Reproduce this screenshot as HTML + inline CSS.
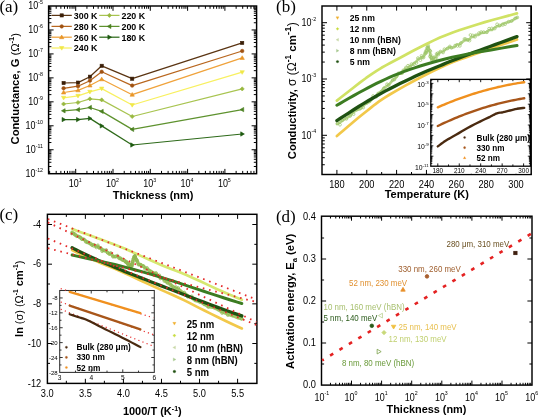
<!DOCTYPE html>
<html><head><meta charset="utf-8"><style>
html,body{margin:0;padding:0;background:#fff;}
svg{display:block;filter:blur(0.3px);}
</style></head><body>
<svg width="539" height="418" viewBox="0 0 539 418" style="font-family:'Liberation Sans', sans-serif">
<rect width="539" height="418" fill="#fff"/>
<line x1="49.63" y1="173.70" x2="49.63" y2="170.90" stroke="#000" stroke-width="1.0" />
<line x1="49.63" y1="6.00" x2="49.63" y2="8.80" stroke="#000" stroke-width="1.0" />
<line x1="56.20" y1="173.70" x2="56.20" y2="170.90" stroke="#000" stroke-width="1.0" />
<line x1="56.20" y1="6.00" x2="56.20" y2="8.80" stroke="#000" stroke-width="1.0" />
<line x1="60.86" y1="173.70" x2="60.86" y2="170.90" stroke="#000" stroke-width="1.0" />
<line x1="60.86" y1="6.00" x2="60.86" y2="8.80" stroke="#000" stroke-width="1.0" />
<line x1="64.47" y1="173.70" x2="64.47" y2="170.90" stroke="#000" stroke-width="1.0" />
<line x1="64.47" y1="6.00" x2="64.47" y2="8.80" stroke="#000" stroke-width="1.0" />
<line x1="67.43" y1="173.70" x2="67.43" y2="170.90" stroke="#000" stroke-width="1.0" />
<line x1="67.43" y1="6.00" x2="67.43" y2="8.80" stroke="#000" stroke-width="1.0" />
<line x1="69.92" y1="173.70" x2="69.92" y2="170.90" stroke="#000" stroke-width="1.0" />
<line x1="69.92" y1="6.00" x2="69.92" y2="8.80" stroke="#000" stroke-width="1.0" />
<line x1="72.09" y1="173.70" x2="72.09" y2="170.90" stroke="#000" stroke-width="1.0" />
<line x1="72.09" y1="6.00" x2="72.09" y2="8.80" stroke="#000" stroke-width="1.0" />
<line x1="73.99" y1="173.70" x2="73.99" y2="170.90" stroke="#000" stroke-width="1.0" />
<line x1="73.99" y1="6.00" x2="73.99" y2="8.80" stroke="#000" stroke-width="1.0" />
<line x1="75.70" y1="173.70" x2="75.70" y2="168.90" stroke="#000" stroke-width="1.0" />
<line x1="75.70" y1="6.00" x2="75.70" y2="10.80" stroke="#000" stroke-width="1.0" />
<line x1="86.93" y1="173.70" x2="86.93" y2="170.90" stroke="#000" stroke-width="1.0" />
<line x1="86.93" y1="6.00" x2="86.93" y2="8.80" stroke="#000" stroke-width="1.0" />
<line x1="93.50" y1="173.70" x2="93.50" y2="170.90" stroke="#000" stroke-width="1.0" />
<line x1="93.50" y1="6.00" x2="93.50" y2="8.80" stroke="#000" stroke-width="1.0" />
<line x1="98.16" y1="173.70" x2="98.16" y2="170.90" stroke="#000" stroke-width="1.0" />
<line x1="98.16" y1="6.00" x2="98.16" y2="8.80" stroke="#000" stroke-width="1.0" />
<line x1="101.77" y1="173.70" x2="101.77" y2="170.90" stroke="#000" stroke-width="1.0" />
<line x1="101.77" y1="6.00" x2="101.77" y2="8.80" stroke="#000" stroke-width="1.0" />
<line x1="104.73" y1="173.70" x2="104.73" y2="170.90" stroke="#000" stroke-width="1.0" />
<line x1="104.73" y1="6.00" x2="104.73" y2="8.80" stroke="#000" stroke-width="1.0" />
<line x1="107.22" y1="173.70" x2="107.22" y2="170.90" stroke="#000" stroke-width="1.0" />
<line x1="107.22" y1="6.00" x2="107.22" y2="8.80" stroke="#000" stroke-width="1.0" />
<line x1="109.39" y1="173.70" x2="109.39" y2="170.90" stroke="#000" stroke-width="1.0" />
<line x1="109.39" y1="6.00" x2="109.39" y2="8.80" stroke="#000" stroke-width="1.0" />
<line x1="111.29" y1="173.70" x2="111.29" y2="170.90" stroke="#000" stroke-width="1.0" />
<line x1="111.29" y1="6.00" x2="111.29" y2="8.80" stroke="#000" stroke-width="1.0" />
<line x1="113.00" y1="173.70" x2="113.00" y2="168.90" stroke="#000" stroke-width="1.0" />
<line x1="113.00" y1="6.00" x2="113.00" y2="10.80" stroke="#000" stroke-width="1.0" />
<line x1="124.23" y1="173.70" x2="124.23" y2="170.90" stroke="#000" stroke-width="1.0" />
<line x1="124.23" y1="6.00" x2="124.23" y2="8.80" stroke="#000" stroke-width="1.0" />
<line x1="130.80" y1="173.70" x2="130.80" y2="170.90" stroke="#000" stroke-width="1.0" />
<line x1="130.80" y1="6.00" x2="130.80" y2="8.80" stroke="#000" stroke-width="1.0" />
<line x1="135.46" y1="173.70" x2="135.46" y2="170.90" stroke="#000" stroke-width="1.0" />
<line x1="135.46" y1="6.00" x2="135.46" y2="8.80" stroke="#000" stroke-width="1.0" />
<line x1="139.07" y1="173.70" x2="139.07" y2="170.90" stroke="#000" stroke-width="1.0" />
<line x1="139.07" y1="6.00" x2="139.07" y2="8.80" stroke="#000" stroke-width="1.0" />
<line x1="142.03" y1="173.70" x2="142.03" y2="170.90" stroke="#000" stroke-width="1.0" />
<line x1="142.03" y1="6.00" x2="142.03" y2="8.80" stroke="#000" stroke-width="1.0" />
<line x1="144.52" y1="173.70" x2="144.52" y2="170.90" stroke="#000" stroke-width="1.0" />
<line x1="144.52" y1="6.00" x2="144.52" y2="8.80" stroke="#000" stroke-width="1.0" />
<line x1="146.69" y1="173.70" x2="146.69" y2="170.90" stroke="#000" stroke-width="1.0" />
<line x1="146.69" y1="6.00" x2="146.69" y2="8.80" stroke="#000" stroke-width="1.0" />
<line x1="148.59" y1="173.70" x2="148.59" y2="170.90" stroke="#000" stroke-width="1.0" />
<line x1="148.59" y1="6.00" x2="148.59" y2="8.80" stroke="#000" stroke-width="1.0" />
<line x1="150.30" y1="173.70" x2="150.30" y2="168.90" stroke="#000" stroke-width="1.0" />
<line x1="150.30" y1="6.00" x2="150.30" y2="10.80" stroke="#000" stroke-width="1.0" />
<line x1="161.53" y1="173.70" x2="161.53" y2="170.90" stroke="#000" stroke-width="1.0" />
<line x1="161.53" y1="6.00" x2="161.53" y2="8.80" stroke="#000" stroke-width="1.0" />
<line x1="168.10" y1="173.70" x2="168.10" y2="170.90" stroke="#000" stroke-width="1.0" />
<line x1="168.10" y1="6.00" x2="168.10" y2="8.80" stroke="#000" stroke-width="1.0" />
<line x1="172.76" y1="173.70" x2="172.76" y2="170.90" stroke="#000" stroke-width="1.0" />
<line x1="172.76" y1="6.00" x2="172.76" y2="8.80" stroke="#000" stroke-width="1.0" />
<line x1="176.37" y1="173.70" x2="176.37" y2="170.90" stroke="#000" stroke-width="1.0" />
<line x1="176.37" y1="6.00" x2="176.37" y2="8.80" stroke="#000" stroke-width="1.0" />
<line x1="179.33" y1="173.70" x2="179.33" y2="170.90" stroke="#000" stroke-width="1.0" />
<line x1="179.33" y1="6.00" x2="179.33" y2="8.80" stroke="#000" stroke-width="1.0" />
<line x1="181.82" y1="173.70" x2="181.82" y2="170.90" stroke="#000" stroke-width="1.0" />
<line x1="181.82" y1="6.00" x2="181.82" y2="8.80" stroke="#000" stroke-width="1.0" />
<line x1="183.99" y1="173.70" x2="183.99" y2="170.90" stroke="#000" stroke-width="1.0" />
<line x1="183.99" y1="6.00" x2="183.99" y2="8.80" stroke="#000" stroke-width="1.0" />
<line x1="185.89" y1="173.70" x2="185.89" y2="170.90" stroke="#000" stroke-width="1.0" />
<line x1="185.89" y1="6.00" x2="185.89" y2="8.80" stroke="#000" stroke-width="1.0" />
<line x1="187.60" y1="173.70" x2="187.60" y2="168.90" stroke="#000" stroke-width="1.0" />
<line x1="187.60" y1="6.00" x2="187.60" y2="10.80" stroke="#000" stroke-width="1.0" />
<line x1="198.83" y1="173.70" x2="198.83" y2="170.90" stroke="#000" stroke-width="1.0" />
<line x1="198.83" y1="6.00" x2="198.83" y2="8.80" stroke="#000" stroke-width="1.0" />
<line x1="205.40" y1="173.70" x2="205.40" y2="170.90" stroke="#000" stroke-width="1.0" />
<line x1="205.40" y1="6.00" x2="205.40" y2="8.80" stroke="#000" stroke-width="1.0" />
<line x1="210.06" y1="173.70" x2="210.06" y2="170.90" stroke="#000" stroke-width="1.0" />
<line x1="210.06" y1="6.00" x2="210.06" y2="8.80" stroke="#000" stroke-width="1.0" />
<line x1="213.67" y1="173.70" x2="213.67" y2="170.90" stroke="#000" stroke-width="1.0" />
<line x1="213.67" y1="6.00" x2="213.67" y2="8.80" stroke="#000" stroke-width="1.0" />
<line x1="216.63" y1="173.70" x2="216.63" y2="170.90" stroke="#000" stroke-width="1.0" />
<line x1="216.63" y1="6.00" x2="216.63" y2="8.80" stroke="#000" stroke-width="1.0" />
<line x1="219.12" y1="173.70" x2="219.12" y2="170.90" stroke="#000" stroke-width="1.0" />
<line x1="219.12" y1="6.00" x2="219.12" y2="8.80" stroke="#000" stroke-width="1.0" />
<line x1="221.29" y1="173.70" x2="221.29" y2="170.90" stroke="#000" stroke-width="1.0" />
<line x1="221.29" y1="6.00" x2="221.29" y2="8.80" stroke="#000" stroke-width="1.0" />
<line x1="223.19" y1="173.70" x2="223.19" y2="170.90" stroke="#000" stroke-width="1.0" />
<line x1="223.19" y1="6.00" x2="223.19" y2="8.80" stroke="#000" stroke-width="1.0" />
<line x1="224.90" y1="173.70" x2="224.90" y2="168.90" stroke="#000" stroke-width="1.0" />
<line x1="224.90" y1="6.00" x2="224.90" y2="10.80" stroke="#000" stroke-width="1.0" />
<line x1="236.13" y1="173.70" x2="236.13" y2="170.90" stroke="#000" stroke-width="1.0" />
<line x1="236.13" y1="6.00" x2="236.13" y2="8.80" stroke="#000" stroke-width="1.0" />
<line x1="242.70" y1="173.70" x2="242.70" y2="170.90" stroke="#000" stroke-width="1.0" />
<line x1="242.70" y1="6.00" x2="242.70" y2="8.80" stroke="#000" stroke-width="1.0" />
<line x1="247.36" y1="173.70" x2="247.36" y2="170.90" stroke="#000" stroke-width="1.0" />
<line x1="247.36" y1="6.00" x2="247.36" y2="8.80" stroke="#000" stroke-width="1.0" />
<line x1="250.97" y1="173.70" x2="250.97" y2="170.90" stroke="#000" stroke-width="1.0" />
<line x1="250.97" y1="6.00" x2="250.97" y2="8.80" stroke="#000" stroke-width="1.0" />
<line x1="253.93" y1="173.70" x2="253.93" y2="170.90" stroke="#000" stroke-width="1.0" />
<line x1="253.93" y1="6.00" x2="253.93" y2="8.80" stroke="#000" stroke-width="1.0" />
<line x1="48.60" y1="166.49" x2="51.40" y2="166.49" stroke="#000" stroke-width="1.0" />
<line x1="256.60" y1="166.49" x2="253.80" y2="166.49" stroke="#000" stroke-width="1.0" />
<line x1="48.60" y1="162.27" x2="51.40" y2="162.27" stroke="#000" stroke-width="1.0" />
<line x1="256.60" y1="162.27" x2="253.80" y2="162.27" stroke="#000" stroke-width="1.0" />
<line x1="48.60" y1="159.28" x2="51.40" y2="159.28" stroke="#000" stroke-width="1.0" />
<line x1="256.60" y1="159.28" x2="253.80" y2="159.28" stroke="#000" stroke-width="1.0" />
<line x1="48.60" y1="156.95" x2="51.40" y2="156.95" stroke="#000" stroke-width="1.0" />
<line x1="256.60" y1="156.95" x2="253.80" y2="156.95" stroke="#000" stroke-width="1.0" />
<line x1="48.60" y1="155.06" x2="51.40" y2="155.06" stroke="#000" stroke-width="1.0" />
<line x1="256.60" y1="155.06" x2="253.80" y2="155.06" stroke="#000" stroke-width="1.0" />
<line x1="48.60" y1="153.45" x2="51.40" y2="153.45" stroke="#000" stroke-width="1.0" />
<line x1="256.60" y1="153.45" x2="253.80" y2="153.45" stroke="#000" stroke-width="1.0" />
<line x1="48.60" y1="152.06" x2="51.40" y2="152.06" stroke="#000" stroke-width="1.0" />
<line x1="256.60" y1="152.06" x2="253.80" y2="152.06" stroke="#000" stroke-width="1.0" />
<line x1="48.60" y1="150.84" x2="51.40" y2="150.84" stroke="#000" stroke-width="1.0" />
<line x1="256.60" y1="150.84" x2="253.80" y2="150.84" stroke="#000" stroke-width="1.0" />
<line x1="48.60" y1="149.74" x2="53.60" y2="149.74" stroke="#000" stroke-width="1.0" />
<line x1="256.60" y1="149.74" x2="251.60" y2="149.74" stroke="#000" stroke-width="1.0" />
<line x1="48.60" y1="142.53" x2="51.40" y2="142.53" stroke="#000" stroke-width="1.0" />
<line x1="256.60" y1="142.53" x2="253.80" y2="142.53" stroke="#000" stroke-width="1.0" />
<line x1="48.60" y1="138.31" x2="51.40" y2="138.31" stroke="#000" stroke-width="1.0" />
<line x1="256.60" y1="138.31" x2="253.80" y2="138.31" stroke="#000" stroke-width="1.0" />
<line x1="48.60" y1="135.32" x2="51.40" y2="135.32" stroke="#000" stroke-width="1.0" />
<line x1="256.60" y1="135.32" x2="253.80" y2="135.32" stroke="#000" stroke-width="1.0" />
<line x1="48.60" y1="133.00" x2="51.40" y2="133.00" stroke="#000" stroke-width="1.0" />
<line x1="256.60" y1="133.00" x2="253.80" y2="133.00" stroke="#000" stroke-width="1.0" />
<line x1="48.60" y1="131.10" x2="51.40" y2="131.10" stroke="#000" stroke-width="1.0" />
<line x1="256.60" y1="131.10" x2="253.80" y2="131.10" stroke="#000" stroke-width="1.0" />
<line x1="48.60" y1="129.50" x2="51.40" y2="129.50" stroke="#000" stroke-width="1.0" />
<line x1="256.60" y1="129.50" x2="253.80" y2="129.50" stroke="#000" stroke-width="1.0" />
<line x1="48.60" y1="128.11" x2="51.40" y2="128.11" stroke="#000" stroke-width="1.0" />
<line x1="256.60" y1="128.11" x2="253.80" y2="128.11" stroke="#000" stroke-width="1.0" />
<line x1="48.60" y1="126.88" x2="51.40" y2="126.88" stroke="#000" stroke-width="1.0" />
<line x1="256.60" y1="126.88" x2="253.80" y2="126.88" stroke="#000" stroke-width="1.0" />
<line x1="48.60" y1="125.79" x2="53.60" y2="125.79" stroke="#000" stroke-width="1.0" />
<line x1="256.60" y1="125.79" x2="251.60" y2="125.79" stroke="#000" stroke-width="1.0" />
<line x1="48.60" y1="118.57" x2="51.40" y2="118.57" stroke="#000" stroke-width="1.0" />
<line x1="256.60" y1="118.57" x2="253.80" y2="118.57" stroke="#000" stroke-width="1.0" />
<line x1="48.60" y1="114.36" x2="51.40" y2="114.36" stroke="#000" stroke-width="1.0" />
<line x1="256.60" y1="114.36" x2="253.80" y2="114.36" stroke="#000" stroke-width="1.0" />
<line x1="48.60" y1="111.36" x2="51.40" y2="111.36" stroke="#000" stroke-width="1.0" />
<line x1="256.60" y1="111.36" x2="253.80" y2="111.36" stroke="#000" stroke-width="1.0" />
<line x1="48.60" y1="109.04" x2="51.40" y2="109.04" stroke="#000" stroke-width="1.0" />
<line x1="256.60" y1="109.04" x2="253.80" y2="109.04" stroke="#000" stroke-width="1.0" />
<line x1="48.60" y1="107.14" x2="51.40" y2="107.14" stroke="#000" stroke-width="1.0" />
<line x1="256.60" y1="107.14" x2="253.80" y2="107.14" stroke="#000" stroke-width="1.0" />
<line x1="48.60" y1="105.54" x2="51.40" y2="105.54" stroke="#000" stroke-width="1.0" />
<line x1="256.60" y1="105.54" x2="253.80" y2="105.54" stroke="#000" stroke-width="1.0" />
<line x1="48.60" y1="104.15" x2="51.40" y2="104.15" stroke="#000" stroke-width="1.0" />
<line x1="256.60" y1="104.15" x2="253.80" y2="104.15" stroke="#000" stroke-width="1.0" />
<line x1="48.60" y1="102.92" x2="51.40" y2="102.92" stroke="#000" stroke-width="1.0" />
<line x1="256.60" y1="102.92" x2="253.80" y2="102.92" stroke="#000" stroke-width="1.0" />
<line x1="48.60" y1="101.83" x2="53.60" y2="101.83" stroke="#000" stroke-width="1.0" />
<line x1="256.60" y1="101.83" x2="251.60" y2="101.83" stroke="#000" stroke-width="1.0" />
<line x1="48.60" y1="94.62" x2="51.40" y2="94.62" stroke="#000" stroke-width="1.0" />
<line x1="256.60" y1="94.62" x2="253.80" y2="94.62" stroke="#000" stroke-width="1.0" />
<line x1="48.60" y1="90.40" x2="51.40" y2="90.40" stroke="#000" stroke-width="1.0" />
<line x1="256.60" y1="90.40" x2="253.80" y2="90.40" stroke="#000" stroke-width="1.0" />
<line x1="48.60" y1="87.40" x2="51.40" y2="87.40" stroke="#000" stroke-width="1.0" />
<line x1="256.60" y1="87.40" x2="253.80" y2="87.40" stroke="#000" stroke-width="1.0" />
<line x1="48.60" y1="85.08" x2="51.40" y2="85.08" stroke="#000" stroke-width="1.0" />
<line x1="256.60" y1="85.08" x2="253.80" y2="85.08" stroke="#000" stroke-width="1.0" />
<line x1="48.60" y1="83.19" x2="51.40" y2="83.19" stroke="#000" stroke-width="1.0" />
<line x1="256.60" y1="83.19" x2="253.80" y2="83.19" stroke="#000" stroke-width="1.0" />
<line x1="48.60" y1="81.58" x2="51.40" y2="81.58" stroke="#000" stroke-width="1.0" />
<line x1="256.60" y1="81.58" x2="253.80" y2="81.58" stroke="#000" stroke-width="1.0" />
<line x1="48.60" y1="80.19" x2="51.40" y2="80.19" stroke="#000" stroke-width="1.0" />
<line x1="256.60" y1="80.19" x2="253.80" y2="80.19" stroke="#000" stroke-width="1.0" />
<line x1="48.60" y1="78.97" x2="51.40" y2="78.97" stroke="#000" stroke-width="1.0" />
<line x1="256.60" y1="78.97" x2="253.80" y2="78.97" stroke="#000" stroke-width="1.0" />
<line x1="48.60" y1="77.87" x2="53.60" y2="77.87" stroke="#000" stroke-width="1.0" />
<line x1="256.60" y1="77.87" x2="251.60" y2="77.87" stroke="#000" stroke-width="1.0" />
<line x1="48.60" y1="70.66" x2="51.40" y2="70.66" stroke="#000" stroke-width="1.0" />
<line x1="256.60" y1="70.66" x2="253.80" y2="70.66" stroke="#000" stroke-width="1.0" />
<line x1="48.60" y1="66.44" x2="51.40" y2="66.44" stroke="#000" stroke-width="1.0" />
<line x1="256.60" y1="66.44" x2="253.80" y2="66.44" stroke="#000" stroke-width="1.0" />
<line x1="48.60" y1="63.45" x2="51.40" y2="63.45" stroke="#000" stroke-width="1.0" />
<line x1="256.60" y1="63.45" x2="253.80" y2="63.45" stroke="#000" stroke-width="1.0" />
<line x1="48.60" y1="61.13" x2="51.40" y2="61.13" stroke="#000" stroke-width="1.0" />
<line x1="256.60" y1="61.13" x2="253.80" y2="61.13" stroke="#000" stroke-width="1.0" />
<line x1="48.60" y1="59.23" x2="51.40" y2="59.23" stroke="#000" stroke-width="1.0" />
<line x1="256.60" y1="59.23" x2="253.80" y2="59.23" stroke="#000" stroke-width="1.0" />
<line x1="48.60" y1="57.63" x2="51.40" y2="57.63" stroke="#000" stroke-width="1.0" />
<line x1="256.60" y1="57.63" x2="253.80" y2="57.63" stroke="#000" stroke-width="1.0" />
<line x1="48.60" y1="56.24" x2="51.40" y2="56.24" stroke="#000" stroke-width="1.0" />
<line x1="256.60" y1="56.24" x2="253.80" y2="56.24" stroke="#000" stroke-width="1.0" />
<line x1="48.60" y1="55.01" x2="51.40" y2="55.01" stroke="#000" stroke-width="1.0" />
<line x1="256.60" y1="55.01" x2="253.80" y2="55.01" stroke="#000" stroke-width="1.0" />
<line x1="48.60" y1="53.91" x2="53.60" y2="53.91" stroke="#000" stroke-width="1.0" />
<line x1="256.60" y1="53.91" x2="251.60" y2="53.91" stroke="#000" stroke-width="1.0" />
<line x1="48.60" y1="46.70" x2="51.40" y2="46.70" stroke="#000" stroke-width="1.0" />
<line x1="256.60" y1="46.70" x2="253.80" y2="46.70" stroke="#000" stroke-width="1.0" />
<line x1="48.60" y1="42.48" x2="51.40" y2="42.48" stroke="#000" stroke-width="1.0" />
<line x1="256.60" y1="42.48" x2="253.80" y2="42.48" stroke="#000" stroke-width="1.0" />
<line x1="48.60" y1="39.49" x2="51.40" y2="39.49" stroke="#000" stroke-width="1.0" />
<line x1="256.60" y1="39.49" x2="253.80" y2="39.49" stroke="#000" stroke-width="1.0" />
<line x1="48.60" y1="37.17" x2="51.40" y2="37.17" stroke="#000" stroke-width="1.0" />
<line x1="256.60" y1="37.17" x2="253.80" y2="37.17" stroke="#000" stroke-width="1.0" />
<line x1="48.60" y1="35.27" x2="51.40" y2="35.27" stroke="#000" stroke-width="1.0" />
<line x1="256.60" y1="35.27" x2="253.80" y2="35.27" stroke="#000" stroke-width="1.0" />
<line x1="48.60" y1="33.67" x2="51.40" y2="33.67" stroke="#000" stroke-width="1.0" />
<line x1="256.60" y1="33.67" x2="253.80" y2="33.67" stroke="#000" stroke-width="1.0" />
<line x1="48.60" y1="32.28" x2="51.40" y2="32.28" stroke="#000" stroke-width="1.0" />
<line x1="256.60" y1="32.28" x2="253.80" y2="32.28" stroke="#000" stroke-width="1.0" />
<line x1="48.60" y1="31.05" x2="51.40" y2="31.05" stroke="#000" stroke-width="1.0" />
<line x1="256.60" y1="31.05" x2="253.80" y2="31.05" stroke="#000" stroke-width="1.0" />
<line x1="48.60" y1="29.96" x2="53.60" y2="29.96" stroke="#000" stroke-width="1.0" />
<line x1="256.60" y1="29.96" x2="251.60" y2="29.96" stroke="#000" stroke-width="1.0" />
<line x1="48.60" y1="22.75" x2="51.40" y2="22.75" stroke="#000" stroke-width="1.0" />
<line x1="256.60" y1="22.75" x2="253.80" y2="22.75" stroke="#000" stroke-width="1.0" />
<line x1="48.60" y1="18.53" x2="51.40" y2="18.53" stroke="#000" stroke-width="1.0" />
<line x1="256.60" y1="18.53" x2="253.80" y2="18.53" stroke="#000" stroke-width="1.0" />
<line x1="48.60" y1="15.53" x2="51.40" y2="15.53" stroke="#000" stroke-width="1.0" />
<line x1="256.60" y1="15.53" x2="253.80" y2="15.53" stroke="#000" stroke-width="1.0" />
<line x1="48.60" y1="13.21" x2="51.40" y2="13.21" stroke="#000" stroke-width="1.0" />
<line x1="256.60" y1="13.21" x2="253.80" y2="13.21" stroke="#000" stroke-width="1.0" />
<line x1="48.60" y1="11.31" x2="51.40" y2="11.31" stroke="#000" stroke-width="1.0" />
<line x1="256.60" y1="11.31" x2="253.80" y2="11.31" stroke="#000" stroke-width="1.0" />
<line x1="48.60" y1="9.71" x2="51.40" y2="9.71" stroke="#000" stroke-width="1.0" />
<line x1="256.60" y1="9.71" x2="253.80" y2="9.71" stroke="#000" stroke-width="1.0" />
<line x1="48.60" y1="8.32" x2="51.40" y2="8.32" stroke="#000" stroke-width="1.0" />
<line x1="256.60" y1="8.32" x2="253.80" y2="8.32" stroke="#000" stroke-width="1.0" />
<line x1="48.60" y1="7.10" x2="51.40" y2="7.10" stroke="#000" stroke-width="1.0" />
<line x1="256.60" y1="7.10" x2="253.80" y2="7.10" stroke="#000" stroke-width="1.0" />
<rect x="48.60" y="6.00" width="208.00" height="167.70" fill="none" stroke="#000" stroke-width="1.45"/>
<text x="0" y="0" transform="translate(43.00,9.30) scale(0.88,1)" font-family="'Liberation Sans', sans-serif" font-size="10.2" fill="#000" text-anchor="end">10<tspan font-size="6.0" dy="-5.5">-5</tspan></text>
<text x="0" y="0" transform="translate(43.00,33.26) scale(0.88,1)" font-family="'Liberation Sans', sans-serif" font-size="10.2" fill="#000" text-anchor="end">10<tspan font-size="6.0" dy="-5.5">-6</tspan></text>
<text x="0" y="0" transform="translate(43.00,57.21) scale(0.88,1)" font-family="'Liberation Sans', sans-serif" font-size="10.2" fill="#000" text-anchor="end">10<tspan font-size="6.0" dy="-5.5">-7</tspan></text>
<text x="0" y="0" transform="translate(43.00,81.17) scale(0.88,1)" font-family="'Liberation Sans', sans-serif" font-size="10.2" fill="#000" text-anchor="end">10<tspan font-size="6.0" dy="-5.5">-8</tspan></text>
<text x="0" y="0" transform="translate(43.00,105.13) scale(0.88,1)" font-family="'Liberation Sans', sans-serif" font-size="10.2" fill="#000" text-anchor="end">10<tspan font-size="6.0" dy="-5.5">-9</tspan></text>
<text x="0" y="0" transform="translate(43.00,129.09) scale(0.88,1)" font-family="'Liberation Sans', sans-serif" font-size="10.2" fill="#000" text-anchor="end">10<tspan font-size="6.0" dy="-5.5">-10</tspan></text>
<text x="0" y="0" transform="translate(43.00,153.04) scale(0.88,1)" font-family="'Liberation Sans', sans-serif" font-size="10.2" fill="#000" text-anchor="end">10<tspan font-size="6.0" dy="-5.5">-11</tspan></text>
<text x="0" y="0" transform="translate(43.00,177.00) scale(0.88,1)" font-family="'Liberation Sans', sans-serif" font-size="10.2" fill="#000" text-anchor="end">10<tspan font-size="6.0" dy="-5.5">-12</tspan></text>
<text x="0" y="0" transform="translate(68.70,187.20) scale(0.88,1)" font-family="'Liberation Sans', sans-serif" font-size="10.2" fill="#000" text-anchor="start">10<tspan font-size="6.0" dy="-5.5">1</tspan></text>
<text x="0" y="0" transform="translate(106.00,187.20) scale(0.88,1)" font-family="'Liberation Sans', sans-serif" font-size="10.2" fill="#000" text-anchor="start">10<tspan font-size="6.0" dy="-5.5">2</tspan></text>
<text x="0" y="0" transform="translate(143.30,187.20) scale(0.88,1)" font-family="'Liberation Sans', sans-serif" font-size="10.2" fill="#000" text-anchor="start">10<tspan font-size="6.0" dy="-5.5">3</tspan></text>
<text x="0" y="0" transform="translate(180.60,187.20) scale(0.88,1)" font-family="'Liberation Sans', sans-serif" font-size="10.2" fill="#000" text-anchor="start">10<tspan font-size="6.0" dy="-5.5">4</tspan></text>
<text x="0" y="0" transform="translate(217.90,187.20) scale(0.88,1)" font-family="'Liberation Sans', sans-serif" font-size="10.2" fill="#000" text-anchor="start">10<tspan font-size="6.0" dy="-5.5">5</tspan></text>
<text x="153.20" y="198.60" font-family="'Liberation Sans', sans-serif" font-size="11" font-weight="bold" fill="#000" text-anchor="middle" >Thickness (nm)</text>
<text x="0" y="0" transform="translate(18.60,144.40) rotate(-90)" font-family="'Liberation Sans', sans-serif" font-size="11.2" font-weight="bold" text-anchor="start">Conductance, G <tspan font-weight="normal">(Ω</tspan><tspan font-size="7.5" dy="-4.4">-1</tspan><tspan dy="4.4" font-weight="normal">)</tspan></text>
<text x="-0.60" y="11.70" font-family="'Liberation Serif', serif" font-size="17" font-weight="normal" fill="#000" text-anchor="start" >(a)</text>
<polyline points="63.60,83.00 78.00,82.60 89.90,76.70 101.70,65.80 132.20,78.70 242.20,42.90" fill="none" stroke="#5a3412" stroke-width="1.25" stroke-linejoin="round" stroke-linecap="round" />
<rect x="62.00" y="81.40" width="3.20" height="3.20" fill="#3a1e08" stroke="#3a1e08" stroke-width="0.6"/>
<rect x="76.40" y="81.00" width="3.20" height="3.20" fill="#3a1e08" stroke="#3a1e08" stroke-width="0.6"/>
<rect x="88.30" y="75.10" width="3.20" height="3.20" fill="#3a1e08" stroke="#3a1e08" stroke-width="0.6"/>
<rect x="100.10" y="64.20" width="3.20" height="3.20" fill="#3a1e08" stroke="#3a1e08" stroke-width="0.6"/>
<rect x="130.60" y="77.10" width="3.20" height="3.20" fill="#3a1e08" stroke="#3a1e08" stroke-width="0.6"/>
<rect x="240.60" y="41.30" width="3.20" height="3.20" fill="#3a1e08" stroke="#3a1e08" stroke-width="0.6"/>
<polyline points="63.60,88.30 78.00,86.20 89.90,80.70 101.70,71.80 132.20,85.60 242.20,51.00" fill="none" stroke="#b8661e" stroke-width="1.25" stroke-linejoin="round" stroke-linecap="round" />
<circle cx="63.60" cy="88.30" r="1.76" fill="#a05212" stroke="#a05212" stroke-width="0.6"/>
<circle cx="78.00" cy="86.20" r="1.76" fill="#a05212" stroke="#a05212" stroke-width="0.6"/>
<circle cx="89.90" cy="80.70" r="1.76" fill="#a05212" stroke="#a05212" stroke-width="0.6"/>
<circle cx="101.70" cy="71.80" r="1.76" fill="#a05212" stroke="#a05212" stroke-width="0.6"/>
<circle cx="132.20" cy="85.60" r="1.76" fill="#a05212" stroke="#a05212" stroke-width="0.6"/>
<circle cx="242.20" cy="51.00" r="1.76" fill="#a05212" stroke="#a05212" stroke-width="0.6"/>
<polyline points="63.60,92.50 78.00,90.30 89.90,85.50 101.70,79.30 132.20,94.70 242.20,57.90" fill="none" stroke="#f0a23a" stroke-width="1.25" stroke-linejoin="round" stroke-linecap="round" />
<polygon points="63.60,90.34 61.44,94.01 65.76,94.01" fill="#e89628" stroke="#e89628" stroke-width="0.6"/>
<polygon points="78.00,88.14 75.84,91.81 80.16,91.81" fill="#e89628" stroke="#e89628" stroke-width="0.6"/>
<polygon points="89.90,83.34 87.74,87.01 92.06,87.01" fill="#e89628" stroke="#e89628" stroke-width="0.6"/>
<polygon points="101.70,77.14 99.54,80.81 103.86,80.81" fill="#e89628" stroke="#e89628" stroke-width="0.6"/>
<polygon points="132.20,92.54 130.04,96.21 134.36,96.21" fill="#e89628" stroke="#e89628" stroke-width="0.6"/>
<polygon points="242.20,55.74 240.04,59.41 244.36,59.41" fill="#e89628" stroke="#e89628" stroke-width="0.6"/>
<polyline points="63.60,97.80 78.00,95.80 89.90,91.80 101.70,88.60 132.20,105.00 242.20,72.20" fill="none" stroke="#f8f060" stroke-width="1.25" stroke-linejoin="round" stroke-linecap="round" />
<polygon points="63.60,99.96 61.44,96.29 65.76,96.29" fill="#f0e848" stroke="#f0e848" stroke-width="0.6"/>
<polygon points="78.00,97.96 75.84,94.29 80.16,94.29" fill="#f0e848" stroke="#f0e848" stroke-width="0.6"/>
<polygon points="89.90,93.96 87.74,90.29 92.06,90.29" fill="#f0e848" stroke="#f0e848" stroke-width="0.6"/>
<polygon points="101.70,90.76 99.54,87.09 103.86,87.09" fill="#f0e848" stroke="#f0e848" stroke-width="0.6"/>
<polygon points="132.20,107.16 130.04,103.49 134.36,103.49" fill="#f0e848" stroke="#f0e848" stroke-width="0.6"/>
<polygon points="242.20,74.36 240.04,70.69 244.36,70.69" fill="#f0e848" stroke="#f0e848" stroke-width="0.6"/>
<polyline points="63.60,104.00 78.00,102.50 89.90,98.90 101.70,99.90 132.20,116.50 242.20,88.90" fill="none" stroke="#a8c450" stroke-width="1.25" stroke-linejoin="round" stroke-linecap="round" />
<polygon points="63.60,101.92 65.68,104.00 63.60,106.08 61.52,104.00" fill="#98b840" stroke="#98b840" stroke-width="0.6"/>
<polygon points="78.00,100.42 80.08,102.50 78.00,104.58 75.92,102.50" fill="#98b840" stroke="#98b840" stroke-width="0.6"/>
<polygon points="89.90,96.82 91.98,98.90 89.90,100.98 87.82,98.90" fill="#98b840" stroke="#98b840" stroke-width="0.6"/>
<polygon points="101.70,97.82 103.78,99.90 101.70,101.98 99.62,99.90" fill="#98b840" stroke="#98b840" stroke-width="0.6"/>
<polygon points="132.20,114.42 134.28,116.50 132.20,118.58 130.12,116.50" fill="#98b840" stroke="#98b840" stroke-width="0.6"/>
<polygon points="242.20,86.82 244.28,88.90 242.20,90.98 240.12,88.90" fill="#98b840" stroke="#98b840" stroke-width="0.6"/>
<polyline points="63.60,110.80 78.00,109.70 89.90,107.50 101.70,111.40 132.20,129.40 242.20,109.60" fill="none" stroke="#5e922e" stroke-width="1.25" stroke-linejoin="round" stroke-linecap="round" />
<polygon points="61.44,110.80 65.11,108.64 65.11,112.96" fill="#4a8020" stroke="#4a8020" stroke-width="0.6"/>
<polygon points="75.84,109.70 79.51,107.54 79.51,111.86" fill="#4a8020" stroke="#4a8020" stroke-width="0.6"/>
<polygon points="87.74,107.50 91.41,105.34 91.41,109.66" fill="#4a8020" stroke="#4a8020" stroke-width="0.6"/>
<polygon points="99.54,111.40 103.21,109.24 103.21,113.56" fill="#4a8020" stroke="#4a8020" stroke-width="0.6"/>
<polygon points="130.04,129.40 133.71,127.24 133.71,131.56" fill="#4a8020" stroke="#4a8020" stroke-width="0.6"/>
<polygon points="240.04,109.60 243.71,107.44 243.71,111.76" fill="#4a8020" stroke="#4a8020" stroke-width="0.6"/>
<polyline points="63.60,119.60 78.00,119.60 89.90,118.40 101.70,125.90 132.20,145.00 242.20,134.00" fill="none" stroke="#2e6a1a" stroke-width="1.25" stroke-linejoin="round" stroke-linecap="round" />
<polygon points="65.76,119.60 62.09,117.44 62.09,121.76" fill="#1e5a10" stroke="#1e5a10" stroke-width="0.6"/>
<polygon points="80.16,119.60 76.49,117.44 76.49,121.76" fill="#1e5a10" stroke="#1e5a10" stroke-width="0.6"/>
<polygon points="92.06,118.40 88.39,116.24 88.39,120.56" fill="#1e5a10" stroke="#1e5a10" stroke-width="0.6"/>
<polygon points="103.86,125.90 100.19,123.74 100.19,128.06" fill="#1e5a10" stroke="#1e5a10" stroke-width="0.6"/>
<polygon points="134.36,145.00 130.69,142.84 130.69,147.16" fill="#1e5a10" stroke="#1e5a10" stroke-width="0.6"/>
<polygon points="244.36,134.00 240.69,131.84 240.69,136.16" fill="#1e5a10" stroke="#1e5a10" stroke-width="0.6"/>
<line x1="51.50" y1="15.40" x2="71.80" y2="15.40" stroke="#5a3412" stroke-width="1.25" />
<rect x="60.10" y="13.80" width="3.20" height="3.20" fill="#3a1e08" stroke="#3a1e08" stroke-width="0.6"/>
<text x="73.80" y="18.70" font-family="'Liberation Sans', sans-serif" font-size="8.9" font-weight="bold" fill="#000" text-anchor="start" >300 K</text>
<line x1="51.50" y1="26.40" x2="71.80" y2="26.40" stroke="#b8661e" stroke-width="1.25" />
<circle cx="61.70" cy="26.40" r="1.76" fill="#a05212" stroke="#a05212" stroke-width="0.6"/>
<text x="73.80" y="29.70" font-family="'Liberation Sans', sans-serif" font-size="8.9" font-weight="bold" fill="#000" text-anchor="start" >280 K</text>
<line x1="51.50" y1="37.20" x2="71.80" y2="37.20" stroke="#f0a23a" stroke-width="1.25" />
<polygon points="61.70,35.04 59.54,38.71 63.86,38.71" fill="#e89628" stroke="#e89628" stroke-width="0.6"/>
<text x="73.80" y="40.50" font-family="'Liberation Sans', sans-serif" font-size="8.9" font-weight="bold" fill="#000" text-anchor="start" >260 K</text>
<line x1="51.50" y1="48.00" x2="71.80" y2="48.00" stroke="#f8f060" stroke-width="1.25" />
<polygon points="61.70,50.16 59.54,46.49 63.86,46.49" fill="#f0e848" stroke="#f0e848" stroke-width="0.6"/>
<text x="73.80" y="51.30" font-family="'Liberation Sans', sans-serif" font-size="8.9" font-weight="bold" fill="#000" text-anchor="start" >240 K</text>
<line x1="99.20" y1="15.40" x2="119.50" y2="15.40" stroke="#a8c450" stroke-width="1.25" />
<polygon points="109.40,13.32 111.48,15.40 109.40,17.48 107.32,15.40" fill="#98b840" stroke="#98b840" stroke-width="0.6"/>
<text x="121.50" y="18.70" font-family="'Liberation Sans', sans-serif" font-size="8.9" font-weight="bold" fill="#000" text-anchor="start" >220 K</text>
<line x1="99.20" y1="26.40" x2="119.50" y2="26.40" stroke="#5e922e" stroke-width="1.25" />
<polygon points="107.24,26.40 110.91,24.24 110.91,28.56" fill="#4a8020" stroke="#4a8020" stroke-width="0.6"/>
<text x="121.50" y="29.70" font-family="'Liberation Sans', sans-serif" font-size="8.9" font-weight="bold" fill="#000" text-anchor="start" >200 K</text>
<line x1="99.20" y1="37.20" x2="119.50" y2="37.20" stroke="#2e6a1a" stroke-width="1.25" />
<polygon points="111.56,37.20 107.89,35.04 107.89,39.36" fill="#1e5a10" stroke="#1e5a10" stroke-width="0.6"/>
<text x="121.50" y="40.50" font-family="'Liberation Sans', sans-serif" font-size="8.9" font-weight="bold" fill="#000" text-anchor="start" >180 K</text>
<line x1="336.90" y1="174.50" x2="336.90" y2="169.90" stroke="#000" stroke-width="1.0" />
<line x1="336.90" y1="6.00" x2="336.90" y2="10.60" stroke="#000" stroke-width="1.0" />
<line x1="366.75" y1="174.50" x2="366.75" y2="169.90" stroke="#000" stroke-width="1.0" />
<line x1="366.75" y1="6.00" x2="366.75" y2="10.60" stroke="#000" stroke-width="1.0" />
<line x1="396.60" y1="174.50" x2="396.60" y2="169.90" stroke="#000" stroke-width="1.0" />
<line x1="396.60" y1="6.00" x2="396.60" y2="10.60" stroke="#000" stroke-width="1.0" />
<line x1="426.45" y1="174.50" x2="426.45" y2="169.90" stroke="#000" stroke-width="1.0" />
<line x1="426.45" y1="6.00" x2="426.45" y2="10.60" stroke="#000" stroke-width="1.0" />
<line x1="456.30" y1="174.50" x2="456.30" y2="169.90" stroke="#000" stroke-width="1.0" />
<line x1="456.30" y1="6.00" x2="456.30" y2="10.60" stroke="#000" stroke-width="1.0" />
<line x1="486.15" y1="174.50" x2="486.15" y2="169.90" stroke="#000" stroke-width="1.0" />
<line x1="486.15" y1="6.00" x2="486.15" y2="10.60" stroke="#000" stroke-width="1.0" />
<line x1="516.00" y1="174.50" x2="516.00" y2="169.90" stroke="#000" stroke-width="1.0" />
<line x1="516.00" y1="6.00" x2="516.00" y2="10.60" stroke="#000" stroke-width="1.0" />
<line x1="351.82" y1="174.50" x2="351.82" y2="172.00" stroke="#000" stroke-width="1.0" />
<line x1="351.82" y1="6.00" x2="351.82" y2="8.50" stroke="#000" stroke-width="1.0" />
<line x1="381.67" y1="174.50" x2="381.67" y2="172.00" stroke="#000" stroke-width="1.0" />
<line x1="381.67" y1="6.00" x2="381.67" y2="8.50" stroke="#000" stroke-width="1.0" />
<line x1="411.52" y1="174.50" x2="411.52" y2="172.00" stroke="#000" stroke-width="1.0" />
<line x1="411.52" y1="6.00" x2="411.52" y2="8.50" stroke="#000" stroke-width="1.0" />
<line x1="441.38" y1="174.50" x2="441.38" y2="172.00" stroke="#000" stroke-width="1.0" />
<line x1="441.38" y1="6.00" x2="441.38" y2="8.50" stroke="#000" stroke-width="1.0" />
<line x1="471.22" y1="174.50" x2="471.22" y2="172.00" stroke="#000" stroke-width="1.0" />
<line x1="471.22" y1="6.00" x2="471.22" y2="8.50" stroke="#000" stroke-width="1.0" />
<line x1="501.07" y1="174.50" x2="501.07" y2="172.00" stroke="#000" stroke-width="1.0" />
<line x1="501.07" y1="6.00" x2="501.07" y2="8.50" stroke="#000" stroke-width="1.0" />
<line x1="322.00" y1="164.74" x2="324.80" y2="164.74" stroke="#000" stroke-width="1.0" />
<line x1="531.20" y1="164.74" x2="528.40" y2="164.74" stroke="#000" stroke-width="1.0" />
<line x1="322.00" y1="157.70" x2="324.80" y2="157.70" stroke="#000" stroke-width="1.0" />
<line x1="531.20" y1="157.70" x2="528.40" y2="157.70" stroke="#000" stroke-width="1.0" />
<line x1="322.00" y1="152.25" x2="324.80" y2="152.25" stroke="#000" stroke-width="1.0" />
<line x1="531.20" y1="152.25" x2="528.40" y2="152.25" stroke="#000" stroke-width="1.0" />
<line x1="322.00" y1="147.79" x2="324.80" y2="147.79" stroke="#000" stroke-width="1.0" />
<line x1="531.20" y1="147.79" x2="528.40" y2="147.79" stroke="#000" stroke-width="1.0" />
<line x1="322.00" y1="144.02" x2="324.80" y2="144.02" stroke="#000" stroke-width="1.0" />
<line x1="531.20" y1="144.02" x2="528.40" y2="144.02" stroke="#000" stroke-width="1.0" />
<line x1="322.00" y1="140.76" x2="324.80" y2="140.76" stroke="#000" stroke-width="1.0" />
<line x1="531.20" y1="140.76" x2="528.40" y2="140.76" stroke="#000" stroke-width="1.0" />
<line x1="322.00" y1="137.88" x2="324.80" y2="137.88" stroke="#000" stroke-width="1.0" />
<line x1="531.20" y1="137.88" x2="528.40" y2="137.88" stroke="#000" stroke-width="1.0" />
<line x1="322.00" y1="135.30" x2="327.00" y2="135.30" stroke="#000" stroke-width="1.0" />
<line x1="531.20" y1="135.30" x2="526.20" y2="135.30" stroke="#000" stroke-width="1.0" />
<line x1="322.00" y1="118.35" x2="324.80" y2="118.35" stroke="#000" stroke-width="1.0" />
<line x1="531.20" y1="118.35" x2="528.40" y2="118.35" stroke="#000" stroke-width="1.0" />
<line x1="322.00" y1="108.44" x2="324.80" y2="108.44" stroke="#000" stroke-width="1.0" />
<line x1="531.20" y1="108.44" x2="528.40" y2="108.44" stroke="#000" stroke-width="1.0" />
<line x1="322.00" y1="101.40" x2="324.80" y2="101.40" stroke="#000" stroke-width="1.0" />
<line x1="531.20" y1="101.40" x2="528.40" y2="101.40" stroke="#000" stroke-width="1.0" />
<line x1="322.00" y1="95.95" x2="324.80" y2="95.95" stroke="#000" stroke-width="1.0" />
<line x1="531.20" y1="95.95" x2="528.40" y2="95.95" stroke="#000" stroke-width="1.0" />
<line x1="322.00" y1="91.49" x2="324.80" y2="91.49" stroke="#000" stroke-width="1.0" />
<line x1="531.20" y1="91.49" x2="528.40" y2="91.49" stroke="#000" stroke-width="1.0" />
<line x1="322.00" y1="87.72" x2="324.80" y2="87.72" stroke="#000" stroke-width="1.0" />
<line x1="531.20" y1="87.72" x2="528.40" y2="87.72" stroke="#000" stroke-width="1.0" />
<line x1="322.00" y1="84.46" x2="324.80" y2="84.46" stroke="#000" stroke-width="1.0" />
<line x1="531.20" y1="84.46" x2="528.40" y2="84.46" stroke="#000" stroke-width="1.0" />
<line x1="322.00" y1="81.58" x2="324.80" y2="81.58" stroke="#000" stroke-width="1.0" />
<line x1="531.20" y1="81.58" x2="528.40" y2="81.58" stroke="#000" stroke-width="1.0" />
<line x1="322.00" y1="79.00" x2="327.00" y2="79.00" stroke="#000" stroke-width="1.0" />
<line x1="531.20" y1="79.00" x2="526.20" y2="79.00" stroke="#000" stroke-width="1.0" />
<line x1="322.00" y1="62.05" x2="324.80" y2="62.05" stroke="#000" stroke-width="1.0" />
<line x1="531.20" y1="62.05" x2="528.40" y2="62.05" stroke="#000" stroke-width="1.0" />
<line x1="322.00" y1="52.14" x2="324.80" y2="52.14" stroke="#000" stroke-width="1.0" />
<line x1="531.20" y1="52.14" x2="528.40" y2="52.14" stroke="#000" stroke-width="1.0" />
<line x1="322.00" y1="45.10" x2="324.80" y2="45.10" stroke="#000" stroke-width="1.0" />
<line x1="531.20" y1="45.10" x2="528.40" y2="45.10" stroke="#000" stroke-width="1.0" />
<line x1="322.00" y1="39.65" x2="324.80" y2="39.65" stroke="#000" stroke-width="1.0" />
<line x1="531.20" y1="39.65" x2="528.40" y2="39.65" stroke="#000" stroke-width="1.0" />
<line x1="322.00" y1="35.19" x2="324.80" y2="35.19" stroke="#000" stroke-width="1.0" />
<line x1="531.20" y1="35.19" x2="528.40" y2="35.19" stroke="#000" stroke-width="1.0" />
<line x1="322.00" y1="31.42" x2="324.80" y2="31.42" stroke="#000" stroke-width="1.0" />
<line x1="531.20" y1="31.42" x2="528.40" y2="31.42" stroke="#000" stroke-width="1.0" />
<line x1="322.00" y1="28.16" x2="324.80" y2="28.16" stroke="#000" stroke-width="1.0" />
<line x1="531.20" y1="28.16" x2="528.40" y2="28.16" stroke="#000" stroke-width="1.0" />
<line x1="322.00" y1="25.28" x2="324.80" y2="25.28" stroke="#000" stroke-width="1.0" />
<line x1="531.20" y1="25.28" x2="528.40" y2="25.28" stroke="#000" stroke-width="1.0" />
<line x1="322.00" y1="22.70" x2="327.00" y2="22.70" stroke="#000" stroke-width="1.0" />
<line x1="531.20" y1="22.70" x2="526.20" y2="22.70" stroke="#000" stroke-width="1.0" />
<rect x="322.00" y="6.00" width="209.20" height="168.50" fill="none" stroke="#000" stroke-width="1.45"/>
<text x="0" y="0" transform="translate(316.20,26.10) scale(0.88,1)" font-family="'Liberation Sans', sans-serif" font-size="10.2" fill="#000" text-anchor="end">10<tspan font-size="6.0" dy="-5.5">-2</tspan></text>
<text x="0" y="0" transform="translate(316.20,82.40) scale(0.88,1)" font-family="'Liberation Sans', sans-serif" font-size="10.2" fill="#000" text-anchor="end">10<tspan font-size="6.0" dy="-5.5">-3</tspan></text>
<text x="0" y="0" transform="translate(316.20,138.70) scale(0.88,1)" font-family="'Liberation Sans', sans-serif" font-size="10.2" fill="#000" text-anchor="end">10<tspan font-size="6.0" dy="-5.5">-4</tspan></text>
<text x="0" y="0" transform="translate(336.90,187.80) scale(0.9,1)" font-family="'Liberation Sans', sans-serif" font-size="10.3" font-weight="normal" fill="#000" text-anchor="middle" >180</text>
<text x="0" y="0" transform="translate(366.75,187.80) scale(0.9,1)" font-family="'Liberation Sans', sans-serif" font-size="10.3" font-weight="normal" fill="#000" text-anchor="middle" >200</text>
<text x="0" y="0" transform="translate(396.60,187.80) scale(0.9,1)" font-family="'Liberation Sans', sans-serif" font-size="10.3" font-weight="normal" fill="#000" text-anchor="middle" >220</text>
<text x="0" y="0" transform="translate(426.45,187.80) scale(0.9,1)" font-family="'Liberation Sans', sans-serif" font-size="10.3" font-weight="normal" fill="#000" text-anchor="middle" >240</text>
<text x="0" y="0" transform="translate(456.30,187.80) scale(0.9,1)" font-family="'Liberation Sans', sans-serif" font-size="10.3" font-weight="normal" fill="#000" text-anchor="middle" >260</text>
<text x="0" y="0" transform="translate(486.15,187.80) scale(0.9,1)" font-family="'Liberation Sans', sans-serif" font-size="10.3" font-weight="normal" fill="#000" text-anchor="middle" >280</text>
<text x="0" y="0" transform="translate(516.00,187.80) scale(0.9,1)" font-family="'Liberation Sans', sans-serif" font-size="10.3" font-weight="normal" fill="#000" text-anchor="middle" >300</text>
<text x="426.80" y="198.30" font-family="'Liberation Sans', sans-serif" font-size="11" font-weight="bold" fill="#000" text-anchor="middle" >Temperature (K)</text>
<text x="0" y="0" transform="translate(295.50,159.20) rotate(-90)" font-family="'Liberation Sans', sans-serif" font-size="11.2" font-weight="bold" text-anchor="start">Conductivity,  <tspan font-weight="normal" font-size="12">σ (Ω</tspan><tspan font-size="8.4" dy="-4.6">-1</tspan><tspan dy="4.6" font-size="11.6"> cm</tspan><tspan font-size="9.6" dy="-4.6">-1</tspan><tspan dy="4.6" font-weight="normal" font-size="12">)</tspan></text>
<text x="276.00" y="11.50" font-family="'Liberation Serif', serif" font-size="17" font-weight="normal" fill="#000" text-anchor="start" >(b)</text>
<polyline points="336.90,136.00 339.73,133.58 343.64,130.20 348.27,126.22 353.28,121.96 358.31,117.78 363.00,114.00 367.16,110.69 371.01,107.59 374.89,104.55 379.11,101.45 383.97,98.14 389.80,94.50 396.95,90.32 405.25,85.66 414.20,80.80 423.30,76.01 432.07,71.55 440.00,67.70 447.03,64.54 453.53,61.86 459.70,59.52 465.71,57.36 471.75,55.24 478.00,53.00 484.89,50.52 492.37,47.91 499.88,45.33 506.85,42.96 512.75,40.95 517.00,39.50" fill="none" stroke="#f2c84a" stroke-width="2.7" stroke-linejoin="round" stroke-linecap="round" />
<polyline points="336.90,124.08 339.24,123.06 342.61,120.38 346.39,118.22 350.00,115.75 353.37,112.31 356.79,109.86 360.19,109.13 363.50,105.52 366.74,102.89 369.93,101.74 373.03,98.02 376.00,96.17 378.82,93.01 381.51,90.97 384.12,87.65 386.70,86.27 389.31,84.28 391.91,81.08 394.41,79.11 396.70,76.84 398.74,73.85 400.59,73.72 402.32,72.01 404.00,70.10 405.56,68.34 406.98,68.93 408.44,67.04 410.10,66.24 412.11,64.93 414.34,62.75 416.55,61.36 418.50,58.79 420.15,58.52 421.62,57.00 422.90,57.24 424.00,56.26 424.85,53.63 425.48,52.55 425.99,51.55 426.50,51.93 427.00,49.60 427.45,48.60 427.87,46.89 428.30,47.01 428.73,47.58 429.15,49.11 429.57,51.47 430.00,53.17 430.41,55.39 430.81,56.61 431.25,58.52 431.80,59.21 432.49,59.53 433.29,58.37 434.14,56.57 435.00,57.22 435.76,56.78 436.48,55.97 437.35,54.52 438.60,53.93 440.33,51.89 442.40,51.98 444.68,50.27 447.00,48.57 449.41,47.10 451.96,47.71 454.53,47.00 457.00,44.18 459.36,44.49 461.67,42.55 463.89,40.88 466.00,40.09 467.86,40.08 469.54,39.41 471.28,36.87 473.30,37.03 475.74,34.75 478.44,34.86 481.25,32.83 484.00,32.76 486.68,31.92 489.36,29.99 492.03,30.01 494.70,27.62 497.33,26.08 499.94,26.01 502.57,23.73 505.30,22.89 508.42,21.98 511.81,20.94 514.87,18.72 517.00,17.58" fill="none" stroke="#b4d488" stroke-width="2.6" stroke-linejoin="round" stroke-linecap="round" />
<circle cx="337.49" cy="123.29" r="1.4" fill="none" stroke="#9cc468" stroke-width="0.7"/>
<circle cx="339.98" cy="124.73" r="1.4" fill="none" stroke="#9cc468" stroke-width="0.7"/>
<circle cx="342.41" cy="120.22" r="1.4" fill="none" stroke="#9cc468" stroke-width="0.7"/>
<circle cx="346.42" cy="118.83" r="1.4" fill="none" stroke="#9cc468" stroke-width="0.7"/>
<circle cx="350.15" cy="116.00" r="1.4" fill="none" stroke="#9cc468" stroke-width="0.7"/>
<circle cx="353.56" cy="114.16" r="1.4" fill="none" stroke="#9cc468" stroke-width="0.7"/>
<circle cx="356.80" cy="109.57" r="1.4" fill="none" stroke="#9cc468" stroke-width="0.7"/>
<circle cx="360.54" cy="108.03" r="1.4" fill="none" stroke="#9cc468" stroke-width="0.7"/>
<circle cx="363.18" cy="107.53" r="1.4" fill="none" stroke="#9cc468" stroke-width="0.7"/>
<circle cx="366.77" cy="103.09" r="1.4" fill="none" stroke="#9cc468" stroke-width="0.7"/>
<circle cx="369.14" cy="101.39" r="1.4" fill="none" stroke="#9cc468" stroke-width="0.7"/>
<circle cx="373.15" cy="96.00" r="1.4" fill="none" stroke="#9cc468" stroke-width="0.7"/>
<circle cx="376.19" cy="96.73" r="1.4" fill="none" stroke="#9cc468" stroke-width="0.7"/>
<circle cx="378.11" cy="93.54" r="1.4" fill="none" stroke="#9cc468" stroke-width="0.7"/>
<circle cx="381.45" cy="91.72" r="1.4" fill="none" stroke="#9cc468" stroke-width="0.7"/>
<circle cx="383.88" cy="88.52" r="1.4" fill="none" stroke="#9cc468" stroke-width="0.7"/>
<circle cx="387.08" cy="84.26" r="1.4" fill="none" stroke="#9cc468" stroke-width="0.7"/>
<circle cx="388.61" cy="85.02" r="1.4" fill="none" stroke="#9cc468" stroke-width="0.7"/>
<circle cx="392.65" cy="80.03" r="1.4" fill="none" stroke="#9cc468" stroke-width="0.7"/>
<circle cx="394.34" cy="79.50" r="1.4" fill="none" stroke="#9cc468" stroke-width="0.7"/>
<circle cx="396.41" cy="76.27" r="1.4" fill="none" stroke="#9cc468" stroke-width="0.7"/>
<circle cx="398.44" cy="73.30" r="1.4" fill="none" stroke="#9cc468" stroke-width="0.7"/>
<circle cx="400.75" cy="72.88" r="1.4" fill="none" stroke="#9cc468" stroke-width="0.7"/>
<circle cx="402.13" cy="73.15" r="1.4" fill="none" stroke="#9cc468" stroke-width="0.7"/>
<circle cx="403.24" cy="70.39" r="1.4" fill="none" stroke="#9cc468" stroke-width="0.7"/>
<circle cx="405.93" cy="67.55" r="1.4" fill="none" stroke="#9cc468" stroke-width="0.7"/>
<circle cx="406.54" cy="70.21" r="1.4" fill="none" stroke="#9cc468" stroke-width="0.7"/>
<circle cx="408.02" cy="65.72" r="1.4" fill="none" stroke="#9cc468" stroke-width="0.7"/>
<circle cx="410.00" cy="67.07" r="1.4" fill="none" stroke="#9cc468" stroke-width="0.7"/>
<circle cx="411.47" cy="64.18" r="1.4" fill="none" stroke="#9cc468" stroke-width="0.7"/>
<circle cx="414.07" cy="64.15" r="1.4" fill="none" stroke="#9cc468" stroke-width="0.7"/>
<circle cx="416.45" cy="62.85" r="1.4" fill="none" stroke="#9cc468" stroke-width="0.7"/>
<circle cx="417.97" cy="58.10" r="1.4" fill="none" stroke="#9cc468" stroke-width="0.7"/>
<circle cx="420.39" cy="60.13" r="1.4" fill="none" stroke="#9cc468" stroke-width="0.7"/>
<circle cx="421.54" cy="55.84" r="1.4" fill="none" stroke="#9cc468" stroke-width="0.7"/>
<circle cx="422.30" cy="57.36" r="1.4" fill="none" stroke="#9cc468" stroke-width="0.7"/>
<circle cx="423.51" cy="57.55" r="1.4" fill="none" stroke="#9cc468" stroke-width="0.7"/>
<circle cx="425.39" cy="52.30" r="1.4" fill="none" stroke="#9cc468" stroke-width="0.7"/>
<circle cx="425.13" cy="53.84" r="1.4" fill="none" stroke="#9cc468" stroke-width="0.7"/>
<circle cx="426.22" cy="52.83" r="1.4" fill="none" stroke="#9cc468" stroke-width="0.7"/>
<circle cx="426.25" cy="50.38" r="1.4" fill="none" stroke="#9cc468" stroke-width="0.7"/>
<circle cx="426.67" cy="50.84" r="1.4" fill="none" stroke="#9cc468" stroke-width="0.7"/>
<circle cx="427.08" cy="47.95" r="1.4" fill="none" stroke="#9cc468" stroke-width="0.7"/>
<circle cx="427.74" cy="46.55" r="1.4" fill="none" stroke="#9cc468" stroke-width="0.7"/>
<circle cx="428.16" cy="48.78" r="1.4" fill="none" stroke="#9cc468" stroke-width="0.7"/>
<circle cx="428.18" cy="45.50" r="1.4" fill="none" stroke="#9cc468" stroke-width="0.7"/>
<circle cx="429.86" cy="50.70" r="1.4" fill="none" stroke="#9cc468" stroke-width="0.7"/>
<circle cx="430.35" cy="51.20" r="1.4" fill="none" stroke="#9cc468" stroke-width="0.7"/>
<circle cx="430.72" cy="54.96" r="1.4" fill="none" stroke="#9cc468" stroke-width="0.7"/>
<circle cx="429.97" cy="56.43" r="1.4" fill="none" stroke="#9cc468" stroke-width="0.7"/>
<circle cx="431.34" cy="57.30" r="1.4" fill="none" stroke="#9cc468" stroke-width="0.7"/>
<circle cx="431.28" cy="57.64" r="1.4" fill="none" stroke="#9cc468" stroke-width="0.7"/>
<circle cx="431.55" cy="58.07" r="1.4" fill="none" stroke="#9cc468" stroke-width="0.7"/>
<circle cx="431.80" cy="59.91" r="1.4" fill="none" stroke="#9cc468" stroke-width="0.7"/>
<circle cx="432.95" cy="59.68" r="1.4" fill="none" stroke="#9cc468" stroke-width="0.7"/>
<circle cx="433.41" cy="58.27" r="1.4" fill="none" stroke="#9cc468" stroke-width="0.7"/>
<circle cx="435.31" cy="59.00" r="1.4" fill="none" stroke="#9cc468" stroke-width="0.7"/>
<circle cx="436.39" cy="58.46" r="1.4" fill="none" stroke="#9cc468" stroke-width="0.7"/>
<circle cx="436.60" cy="53.92" r="1.4" fill="none" stroke="#9cc468" stroke-width="0.7"/>
<circle cx="437.75" cy="53.14" r="1.4" fill="none" stroke="#9cc468" stroke-width="0.7"/>
<circle cx="438.28" cy="54.61" r="1.4" fill="none" stroke="#9cc468" stroke-width="0.7"/>
<circle cx="440.36" cy="51.53" r="1.4" fill="none" stroke="#9cc468" stroke-width="0.7"/>
<circle cx="443.10" cy="52.45" r="1.4" fill="none" stroke="#9cc468" stroke-width="0.7"/>
<circle cx="444.42" cy="49.23" r="1.4" fill="none" stroke="#9cc468" stroke-width="0.7"/>
<circle cx="447.58" cy="48.47" r="1.4" fill="none" stroke="#9cc468" stroke-width="0.7"/>
<circle cx="449.86" cy="46.48" r="1.4" fill="none" stroke="#9cc468" stroke-width="0.7"/>
<circle cx="451.48" cy="47.85" r="1.4" fill="none" stroke="#9cc468" stroke-width="0.7"/>
<circle cx="455.04" cy="45.62" r="1.4" fill="none" stroke="#9cc468" stroke-width="0.7"/>
<circle cx="457.47" cy="45.95" r="1.4" fill="none" stroke="#9cc468" stroke-width="0.7"/>
<circle cx="459.85" cy="45.85" r="1.4" fill="none" stroke="#9cc468" stroke-width="0.7"/>
<circle cx="460.88" cy="43.09" r="1.4" fill="none" stroke="#9cc468" stroke-width="0.7"/>
<circle cx="464.47" cy="38.99" r="1.4" fill="none" stroke="#9cc468" stroke-width="0.7"/>
<circle cx="465.63" cy="39.12" r="1.4" fill="none" stroke="#9cc468" stroke-width="0.7"/>
<circle cx="467.91" cy="39.76" r="1.4" fill="none" stroke="#9cc468" stroke-width="0.7"/>
<circle cx="469.50" cy="40.58" r="1.4" fill="none" stroke="#9cc468" stroke-width="0.7"/>
<circle cx="470.48" cy="35.00" r="1.4" fill="none" stroke="#9cc468" stroke-width="0.7"/>
<circle cx="472.70" cy="35.45" r="1.4" fill="none" stroke="#9cc468" stroke-width="0.7"/>
<circle cx="475.05" cy="36.74" r="1.4" fill="none" stroke="#9cc468" stroke-width="0.7"/>
<circle cx="479.00" cy="33.12" r="1.4" fill="none" stroke="#9cc468" stroke-width="0.7"/>
<circle cx="481.25" cy="32.06" r="1.4" fill="none" stroke="#9cc468" stroke-width="0.7"/>
<circle cx="483.70" cy="32.14" r="1.4" fill="none" stroke="#9cc468" stroke-width="0.7"/>
<circle cx="486.91" cy="32.28" r="1.4" fill="none" stroke="#9cc468" stroke-width="0.7"/>
<circle cx="489.13" cy="28.69" r="1.4" fill="none" stroke="#9cc468" stroke-width="0.7"/>
<circle cx="491.76" cy="28.43" r="1.4" fill="none" stroke="#9cc468" stroke-width="0.7"/>
<circle cx="494.79" cy="28.53" r="1.4" fill="none" stroke="#9cc468" stroke-width="0.7"/>
<circle cx="497.14" cy="24.31" r="1.4" fill="none" stroke="#9cc468" stroke-width="0.7"/>
<circle cx="499.42" cy="25.48" r="1.4" fill="none" stroke="#9cc468" stroke-width="0.7"/>
<circle cx="502.74" cy="24.92" r="1.4" fill="none" stroke="#9cc468" stroke-width="0.7"/>
<circle cx="505.11" cy="24.16" r="1.4" fill="none" stroke="#9cc468" stroke-width="0.7"/>
<circle cx="508.62" cy="21.70" r="1.4" fill="none" stroke="#9cc468" stroke-width="0.7"/>
<circle cx="511.61" cy="20.92" r="1.4" fill="none" stroke="#9cc468" stroke-width="0.7"/>
<circle cx="515.20" cy="18.39" r="1.4" fill="none" stroke="#9cc468" stroke-width="0.7"/>
<circle cx="517.31" cy="17.42" r="1.4" fill="none" stroke="#9cc468" stroke-width="0.7"/>
<polyline points="336.90,120.60 339.80,118.73 343.81,116.11 348.56,113.03 353.67,109.74 358.78,106.51 363.50,103.60 367.85,100.99 372.14,98.47 376.41,96.01 380.74,93.57 385.18,91.15 389.80,88.70 394.75,86.16 400.02,83.55 405.41,80.94 410.70,78.42 415.70,76.08 420.20,74.00 424.11,72.24 427.58,70.75 430.75,69.44 433.78,68.21 436.81,67.00 440.00,65.70 443.21,64.37 446.28,63.10 449.36,61.82 452.59,60.51 456.09,59.12 460.00,57.60 464.46,55.91 469.37,54.08 474.56,52.16 479.85,50.22 485.06,48.32 490.00,46.50 494.99,44.67 500.22,42.74 505.38,40.86 510.11,39.12 514.10,37.66 517.00,36.60" fill="none" stroke="#1f5212" stroke-width="3.3" stroke-linejoin="round" stroke-linecap="round" />
<polyline points="336.90,105.30 339.80,103.63 343.80,101.31 348.54,98.56 353.66,95.64 358.76,92.77 363.50,90.20 367.88,87.89 372.20,85.64 376.52,83.46 380.90,81.32 385.37,79.24 390.00,77.20 394.71,75.22 399.44,73.30 404.27,71.44 409.29,69.61 414.57,67.80 420.20,66.00 426.08,64.22 432.12,62.46 438.42,60.73 445.10,59.01 452.26,57.31 460.00,55.60 469.16,53.78 479.84,51.84 490.99,49.90 501.59,48.11 510.60,46.60 517.00,45.50" fill="none" stroke="#3c7c22" stroke-width="3.0" stroke-linejoin="round" stroke-linecap="round" />
<polyline points="336.90,100.60 340.80,97.56 346.26,93.26 352.69,88.21 359.51,82.93 366.14,77.96 372.00,73.80 376.97,70.54 381.48,67.79 385.81,65.33 390.20,62.97 394.91,60.49 400.20,57.70 406.18,54.50 412.67,51.05 419.49,47.48 426.44,43.95 433.34,40.61 440.00,37.60 446.43,34.95 452.76,32.54 459.05,30.32 465.33,28.23 471.63,26.21 478.00,24.20 484.89,22.12 492.37,20.01 499.88,17.96 506.85,16.10 512.75,14.54 517.00,13.40" fill="none" stroke="#d0e264" stroke-width="2.7" stroke-linejoin="round" stroke-linecap="round" />
<polygon points="337.50,19.38 336.01,16.86 338.99,16.86" fill="#f0b030" stroke="#f0b030" stroke-width="0.3"/>
<text x="0" y="0" transform="translate(349.80,21.00) scale(1.02,1)" font-family="'Liberation Sans', sans-serif" font-size="8.5" font-weight="bold" fill="#000" text-anchor="start" >25 nm</text>
<polygon points="337.50,27.40 338.93,28.83 337.50,30.26 336.07,28.83" fill="#c8dc40" stroke="#c8dc40" stroke-width="0.3"/>
<text x="0" y="0" transform="translate(349.80,31.93) scale(1.02,1)" font-family="'Liberation Sans', sans-serif" font-size="8.5" font-weight="bold" fill="#000" text-anchor="start" >12 nm</text>
<polygon points="336.01,39.76 338.54,38.27 338.54,41.24" fill="#c8d8a8" stroke="#c8d8a8" stroke-width="0.3"/>
<text x="0" y="0" transform="translate(349.80,42.86) scale(1.02,1)" font-family="'Liberation Sans', sans-serif" font-size="8.5" font-weight="bold" fill="#000" text-anchor="start" >10 nm (hBN)</text>
<polygon points="338.99,50.69 336.46,49.20 336.46,52.17" fill="#a8c890" stroke="#a8c890" stroke-width="0.3"/>
<text x="0" y="0" transform="translate(349.80,53.79) scale(1.02,1)" font-family="'Liberation Sans', sans-serif" font-size="8.5" font-weight="bold" fill="#000" text-anchor="start" >8 nm (hBN)</text>
<circle cx="337.50" cy="61.62" r="1.21" fill="#205010" stroke="#205010" stroke-width="0.3"/>
<text x="0" y="0" transform="translate(349.80,64.72) scale(1.02,1)" font-family="'Liberation Sans', sans-serif" font-size="8.5" font-weight="bold" fill="#000" text-anchor="start" >5 nm</text>
<rect x="430.8" y="79.4" width="101.10" height="94.30" fill="#fff"/>
<line x1="437.80" y1="166.20" x2="437.80" y2="163.40" stroke="#000" stroke-width="0.9" />
<line x1="437.80" y1="79.40" x2="437.80" y2="82.20" stroke="#000" stroke-width="0.9" />
<line x1="459.25" y1="166.20" x2="459.25" y2="163.40" stroke="#000" stroke-width="0.9" />
<line x1="459.25" y1="79.40" x2="459.25" y2="82.20" stroke="#000" stroke-width="0.9" />
<line x1="480.70" y1="166.20" x2="480.70" y2="163.40" stroke="#000" stroke-width="0.9" />
<line x1="480.70" y1="79.40" x2="480.70" y2="82.20" stroke="#000" stroke-width="0.9" />
<line x1="502.15" y1="166.20" x2="502.15" y2="163.40" stroke="#000" stroke-width="0.9" />
<line x1="502.15" y1="79.40" x2="502.15" y2="82.20" stroke="#000" stroke-width="0.9" />
<line x1="523.60" y1="166.20" x2="523.60" y2="163.40" stroke="#000" stroke-width="0.9" />
<line x1="523.60" y1="79.40" x2="523.60" y2="82.20" stroke="#000" stroke-width="0.9" />
<line x1="448.53" y1="166.20" x2="448.53" y2="164.40" stroke="#000" stroke-width="0.9" />
<line x1="448.53" y1="79.40" x2="448.53" y2="81.20" stroke="#000" stroke-width="0.9" />
<line x1="469.98" y1="166.20" x2="469.98" y2="164.40" stroke="#000" stroke-width="0.9" />
<line x1="469.98" y1="79.40" x2="469.98" y2="81.20" stroke="#000" stroke-width="0.9" />
<line x1="491.43" y1="166.20" x2="491.43" y2="164.40" stroke="#000" stroke-width="0.9" />
<line x1="491.43" y1="79.40" x2="491.43" y2="81.20" stroke="#000" stroke-width="0.9" />
<line x1="512.88" y1="166.20" x2="512.88" y2="164.40" stroke="#000" stroke-width="0.9" />
<line x1="512.88" y1="79.40" x2="512.88" y2="81.20" stroke="#000" stroke-width="0.9" />
<line x1="430.80" y1="163.47" x2="432.30" y2="163.47" stroke="#000" stroke-width="0.8" />
<line x1="530.40" y1="163.47" x2="528.90" y2="163.47" stroke="#000" stroke-width="0.8" />
<line x1="430.80" y1="161.64" x2="432.30" y2="161.64" stroke="#000" stroke-width="0.8" />
<line x1="530.40" y1="161.64" x2="528.90" y2="161.64" stroke="#000" stroke-width="0.8" />
<line x1="430.80" y1="160.34" x2="432.30" y2="160.34" stroke="#000" stroke-width="0.8" />
<line x1="530.40" y1="160.34" x2="528.90" y2="160.34" stroke="#000" stroke-width="0.8" />
<line x1="430.80" y1="159.33" x2="432.30" y2="159.33" stroke="#000" stroke-width="0.8" />
<line x1="530.40" y1="159.33" x2="528.90" y2="159.33" stroke="#000" stroke-width="0.8" />
<line x1="430.80" y1="158.51" x2="432.30" y2="158.51" stroke="#000" stroke-width="0.8" />
<line x1="530.40" y1="158.51" x2="528.90" y2="158.51" stroke="#000" stroke-width="0.8" />
<line x1="430.80" y1="157.81" x2="432.30" y2="157.81" stroke="#000" stroke-width="0.8" />
<line x1="530.40" y1="157.81" x2="528.90" y2="157.81" stroke="#000" stroke-width="0.8" />
<line x1="430.80" y1="157.21" x2="432.30" y2="157.21" stroke="#000" stroke-width="0.8" />
<line x1="530.40" y1="157.21" x2="528.90" y2="157.21" stroke="#000" stroke-width="0.8" />
<line x1="430.80" y1="156.68" x2="432.30" y2="156.68" stroke="#000" stroke-width="0.8" />
<line x1="530.40" y1="156.68" x2="528.90" y2="156.68" stroke="#000" stroke-width="0.8" />
<line x1="430.80" y1="156.20" x2="433.40" y2="156.20" stroke="#000" stroke-width="0.8" />
<line x1="530.40" y1="156.20" x2="527.80" y2="156.20" stroke="#000" stroke-width="0.8" />
<line x1="430.80" y1="153.07" x2="432.30" y2="153.07" stroke="#000" stroke-width="0.8" />
<line x1="530.40" y1="153.07" x2="528.90" y2="153.07" stroke="#000" stroke-width="0.8" />
<line x1="430.80" y1="151.24" x2="432.30" y2="151.24" stroke="#000" stroke-width="0.8" />
<line x1="530.40" y1="151.24" x2="528.90" y2="151.24" stroke="#000" stroke-width="0.8" />
<line x1="430.80" y1="149.94" x2="432.30" y2="149.94" stroke="#000" stroke-width="0.8" />
<line x1="530.40" y1="149.94" x2="528.90" y2="149.94" stroke="#000" stroke-width="0.8" />
<line x1="430.80" y1="148.93" x2="432.30" y2="148.93" stroke="#000" stroke-width="0.8" />
<line x1="530.40" y1="148.93" x2="528.90" y2="148.93" stroke="#000" stroke-width="0.8" />
<line x1="430.80" y1="148.11" x2="432.30" y2="148.11" stroke="#000" stroke-width="0.8" />
<line x1="530.40" y1="148.11" x2="528.90" y2="148.11" stroke="#000" stroke-width="0.8" />
<line x1="430.80" y1="147.41" x2="432.30" y2="147.41" stroke="#000" stroke-width="0.8" />
<line x1="530.40" y1="147.41" x2="528.90" y2="147.41" stroke="#000" stroke-width="0.8" />
<line x1="430.80" y1="146.81" x2="432.30" y2="146.81" stroke="#000" stroke-width="0.8" />
<line x1="530.40" y1="146.81" x2="528.90" y2="146.81" stroke="#000" stroke-width="0.8" />
<line x1="430.80" y1="146.28" x2="432.30" y2="146.28" stroke="#000" stroke-width="0.8" />
<line x1="530.40" y1="146.28" x2="528.90" y2="146.28" stroke="#000" stroke-width="0.8" />
<line x1="430.80" y1="145.80" x2="433.40" y2="145.80" stroke="#000" stroke-width="0.8" />
<line x1="530.40" y1="145.80" x2="527.80" y2="145.80" stroke="#000" stroke-width="0.8" />
<line x1="430.80" y1="142.67" x2="432.30" y2="142.67" stroke="#000" stroke-width="0.8" />
<line x1="530.40" y1="142.67" x2="528.90" y2="142.67" stroke="#000" stroke-width="0.8" />
<line x1="430.80" y1="140.84" x2="432.30" y2="140.84" stroke="#000" stroke-width="0.8" />
<line x1="530.40" y1="140.84" x2="528.90" y2="140.84" stroke="#000" stroke-width="0.8" />
<line x1="430.80" y1="139.54" x2="432.30" y2="139.54" stroke="#000" stroke-width="0.8" />
<line x1="530.40" y1="139.54" x2="528.90" y2="139.54" stroke="#000" stroke-width="0.8" />
<line x1="430.80" y1="138.53" x2="432.30" y2="138.53" stroke="#000" stroke-width="0.8" />
<line x1="530.40" y1="138.53" x2="528.90" y2="138.53" stroke="#000" stroke-width="0.8" />
<line x1="430.80" y1="137.71" x2="432.30" y2="137.71" stroke="#000" stroke-width="0.8" />
<line x1="530.40" y1="137.71" x2="528.90" y2="137.71" stroke="#000" stroke-width="0.8" />
<line x1="430.80" y1="137.01" x2="432.30" y2="137.01" stroke="#000" stroke-width="0.8" />
<line x1="530.40" y1="137.01" x2="528.90" y2="137.01" stroke="#000" stroke-width="0.8" />
<line x1="430.80" y1="136.41" x2="432.30" y2="136.41" stroke="#000" stroke-width="0.8" />
<line x1="530.40" y1="136.41" x2="528.90" y2="136.41" stroke="#000" stroke-width="0.8" />
<line x1="430.80" y1="135.88" x2="432.30" y2="135.88" stroke="#000" stroke-width="0.8" />
<line x1="530.40" y1="135.88" x2="528.90" y2="135.88" stroke="#000" stroke-width="0.8" />
<line x1="430.80" y1="135.40" x2="433.40" y2="135.40" stroke="#000" stroke-width="0.8" />
<line x1="530.40" y1="135.40" x2="527.80" y2="135.40" stroke="#000" stroke-width="0.8" />
<line x1="430.80" y1="132.27" x2="432.30" y2="132.27" stroke="#000" stroke-width="0.8" />
<line x1="530.40" y1="132.27" x2="528.90" y2="132.27" stroke="#000" stroke-width="0.8" />
<line x1="430.80" y1="130.44" x2="432.30" y2="130.44" stroke="#000" stroke-width="0.8" />
<line x1="530.40" y1="130.44" x2="528.90" y2="130.44" stroke="#000" stroke-width="0.8" />
<line x1="430.80" y1="129.14" x2="432.30" y2="129.14" stroke="#000" stroke-width="0.8" />
<line x1="530.40" y1="129.14" x2="528.90" y2="129.14" stroke="#000" stroke-width="0.8" />
<line x1="430.80" y1="128.13" x2="432.30" y2="128.13" stroke="#000" stroke-width="0.8" />
<line x1="530.40" y1="128.13" x2="528.90" y2="128.13" stroke="#000" stroke-width="0.8" />
<line x1="430.80" y1="127.31" x2="432.30" y2="127.31" stroke="#000" stroke-width="0.8" />
<line x1="530.40" y1="127.31" x2="528.90" y2="127.31" stroke="#000" stroke-width="0.8" />
<line x1="430.80" y1="126.61" x2="432.30" y2="126.61" stroke="#000" stroke-width="0.8" />
<line x1="530.40" y1="126.61" x2="528.90" y2="126.61" stroke="#000" stroke-width="0.8" />
<line x1="430.80" y1="126.01" x2="432.30" y2="126.01" stroke="#000" stroke-width="0.8" />
<line x1="530.40" y1="126.01" x2="528.90" y2="126.01" stroke="#000" stroke-width="0.8" />
<line x1="430.80" y1="125.48" x2="432.30" y2="125.48" stroke="#000" stroke-width="0.8" />
<line x1="530.40" y1="125.48" x2="528.90" y2="125.48" stroke="#000" stroke-width="0.8" />
<line x1="430.80" y1="125.00" x2="433.40" y2="125.00" stroke="#000" stroke-width="0.8" />
<line x1="530.40" y1="125.00" x2="527.80" y2="125.00" stroke="#000" stroke-width="0.8" />
<line x1="430.80" y1="121.87" x2="432.30" y2="121.87" stroke="#000" stroke-width="0.8" />
<line x1="530.40" y1="121.87" x2="528.90" y2="121.87" stroke="#000" stroke-width="0.8" />
<line x1="430.80" y1="120.04" x2="432.30" y2="120.04" stroke="#000" stroke-width="0.8" />
<line x1="530.40" y1="120.04" x2="528.90" y2="120.04" stroke="#000" stroke-width="0.8" />
<line x1="430.80" y1="118.74" x2="432.30" y2="118.74" stroke="#000" stroke-width="0.8" />
<line x1="530.40" y1="118.74" x2="528.90" y2="118.74" stroke="#000" stroke-width="0.8" />
<line x1="430.80" y1="117.73" x2="432.30" y2="117.73" stroke="#000" stroke-width="0.8" />
<line x1="530.40" y1="117.73" x2="528.90" y2="117.73" stroke="#000" stroke-width="0.8" />
<line x1="430.80" y1="116.91" x2="432.30" y2="116.91" stroke="#000" stroke-width="0.8" />
<line x1="530.40" y1="116.91" x2="528.90" y2="116.91" stroke="#000" stroke-width="0.8" />
<line x1="430.80" y1="116.21" x2="432.30" y2="116.21" stroke="#000" stroke-width="0.8" />
<line x1="530.40" y1="116.21" x2="528.90" y2="116.21" stroke="#000" stroke-width="0.8" />
<line x1="430.80" y1="115.61" x2="432.30" y2="115.61" stroke="#000" stroke-width="0.8" />
<line x1="530.40" y1="115.61" x2="528.90" y2="115.61" stroke="#000" stroke-width="0.8" />
<line x1="430.80" y1="115.08" x2="432.30" y2="115.08" stroke="#000" stroke-width="0.8" />
<line x1="530.40" y1="115.08" x2="528.90" y2="115.08" stroke="#000" stroke-width="0.8" />
<line x1="430.80" y1="114.60" x2="433.40" y2="114.60" stroke="#000" stroke-width="0.8" />
<line x1="530.40" y1="114.60" x2="527.80" y2="114.60" stroke="#000" stroke-width="0.8" />
<line x1="430.80" y1="111.47" x2="432.30" y2="111.47" stroke="#000" stroke-width="0.8" />
<line x1="530.40" y1="111.47" x2="528.90" y2="111.47" stroke="#000" stroke-width="0.8" />
<line x1="430.80" y1="109.64" x2="432.30" y2="109.64" stroke="#000" stroke-width="0.8" />
<line x1="530.40" y1="109.64" x2="528.90" y2="109.64" stroke="#000" stroke-width="0.8" />
<line x1="430.80" y1="108.34" x2="432.30" y2="108.34" stroke="#000" stroke-width="0.8" />
<line x1="530.40" y1="108.34" x2="528.90" y2="108.34" stroke="#000" stroke-width="0.8" />
<line x1="430.80" y1="107.33" x2="432.30" y2="107.33" stroke="#000" stroke-width="0.8" />
<line x1="530.40" y1="107.33" x2="528.90" y2="107.33" stroke="#000" stroke-width="0.8" />
<line x1="430.80" y1="106.51" x2="432.30" y2="106.51" stroke="#000" stroke-width="0.8" />
<line x1="530.40" y1="106.51" x2="528.90" y2="106.51" stroke="#000" stroke-width="0.8" />
<line x1="430.80" y1="105.81" x2="432.30" y2="105.81" stroke="#000" stroke-width="0.8" />
<line x1="530.40" y1="105.81" x2="528.90" y2="105.81" stroke="#000" stroke-width="0.8" />
<line x1="430.80" y1="105.21" x2="432.30" y2="105.21" stroke="#000" stroke-width="0.8" />
<line x1="530.40" y1="105.21" x2="528.90" y2="105.21" stroke="#000" stroke-width="0.8" />
<line x1="430.80" y1="104.68" x2="432.30" y2="104.68" stroke="#000" stroke-width="0.8" />
<line x1="530.40" y1="104.68" x2="528.90" y2="104.68" stroke="#000" stroke-width="0.8" />
<line x1="430.80" y1="104.20" x2="433.40" y2="104.20" stroke="#000" stroke-width="0.8" />
<line x1="530.40" y1="104.20" x2="527.80" y2="104.20" stroke="#000" stroke-width="0.8" />
<line x1="430.80" y1="101.07" x2="432.30" y2="101.07" stroke="#000" stroke-width="0.8" />
<line x1="530.40" y1="101.07" x2="528.90" y2="101.07" stroke="#000" stroke-width="0.8" />
<line x1="430.80" y1="99.24" x2="432.30" y2="99.24" stroke="#000" stroke-width="0.8" />
<line x1="530.40" y1="99.24" x2="528.90" y2="99.24" stroke="#000" stroke-width="0.8" />
<line x1="430.80" y1="97.94" x2="432.30" y2="97.94" stroke="#000" stroke-width="0.8" />
<line x1="530.40" y1="97.94" x2="528.90" y2="97.94" stroke="#000" stroke-width="0.8" />
<line x1="430.80" y1="96.93" x2="432.30" y2="96.93" stroke="#000" stroke-width="0.8" />
<line x1="530.40" y1="96.93" x2="528.90" y2="96.93" stroke="#000" stroke-width="0.8" />
<line x1="430.80" y1="96.11" x2="432.30" y2="96.11" stroke="#000" stroke-width="0.8" />
<line x1="530.40" y1="96.11" x2="528.90" y2="96.11" stroke="#000" stroke-width="0.8" />
<line x1="430.80" y1="95.41" x2="432.30" y2="95.41" stroke="#000" stroke-width="0.8" />
<line x1="530.40" y1="95.41" x2="528.90" y2="95.41" stroke="#000" stroke-width="0.8" />
<line x1="430.80" y1="94.81" x2="432.30" y2="94.81" stroke="#000" stroke-width="0.8" />
<line x1="530.40" y1="94.81" x2="528.90" y2="94.81" stroke="#000" stroke-width="0.8" />
<line x1="430.80" y1="94.28" x2="432.30" y2="94.28" stroke="#000" stroke-width="0.8" />
<line x1="530.40" y1="94.28" x2="528.90" y2="94.28" stroke="#000" stroke-width="0.8" />
<line x1="430.80" y1="93.80" x2="433.40" y2="93.80" stroke="#000" stroke-width="0.8" />
<line x1="530.40" y1="93.80" x2="527.80" y2="93.80" stroke="#000" stroke-width="0.8" />
<line x1="430.80" y1="90.67" x2="432.30" y2="90.67" stroke="#000" stroke-width="0.8" />
<line x1="530.40" y1="90.67" x2="528.90" y2="90.67" stroke="#000" stroke-width="0.8" />
<line x1="430.80" y1="88.84" x2="432.30" y2="88.84" stroke="#000" stroke-width="0.8" />
<line x1="530.40" y1="88.84" x2="528.90" y2="88.84" stroke="#000" stroke-width="0.8" />
<line x1="430.80" y1="87.54" x2="432.30" y2="87.54" stroke="#000" stroke-width="0.8" />
<line x1="530.40" y1="87.54" x2="528.90" y2="87.54" stroke="#000" stroke-width="0.8" />
<line x1="430.80" y1="86.53" x2="432.30" y2="86.53" stroke="#000" stroke-width="0.8" />
<line x1="530.40" y1="86.53" x2="528.90" y2="86.53" stroke="#000" stroke-width="0.8" />
<line x1="430.80" y1="85.71" x2="432.30" y2="85.71" stroke="#000" stroke-width="0.8" />
<line x1="530.40" y1="85.71" x2="528.90" y2="85.71" stroke="#000" stroke-width="0.8" />
<line x1="430.80" y1="85.01" x2="432.30" y2="85.01" stroke="#000" stroke-width="0.8" />
<line x1="530.40" y1="85.01" x2="528.90" y2="85.01" stroke="#000" stroke-width="0.8" />
<line x1="430.80" y1="84.41" x2="432.30" y2="84.41" stroke="#000" stroke-width="0.8" />
<line x1="530.40" y1="84.41" x2="528.90" y2="84.41" stroke="#000" stroke-width="0.8" />
<line x1="430.80" y1="83.88" x2="432.30" y2="83.88" stroke="#000" stroke-width="0.8" />
<line x1="530.40" y1="83.88" x2="528.90" y2="83.88" stroke="#000" stroke-width="0.8" />
<line x1="430.80" y1="83.40" x2="433.40" y2="83.40" stroke="#000" stroke-width="0.8" />
<line x1="530.40" y1="83.40" x2="527.80" y2="83.40" stroke="#000" stroke-width="0.8" />
<line x1="430.80" y1="80.27" x2="432.30" y2="80.27" stroke="#000" stroke-width="0.8" />
<line x1="530.40" y1="80.27" x2="528.90" y2="80.27" stroke="#000" stroke-width="0.8" />
<rect x="430.80" y="79.40" width="99.60" height="86.80" fill="none" stroke="#000" stroke-width="1.3"/>
<line x1="531.20" y1="6.00" x2="531.20" y2="174.50" stroke="#000" stroke-width="1.45" />
<text x="428.60" y="86.60" font-family="'Liberation Sans', sans-serif" font-size="6.8" text-anchor="end">10<tspan font-size="4.4" dy="-2.8">-3</tspan></text>
<text x="428.60" y="107.40" font-family="'Liberation Sans', sans-serif" font-size="6.8" text-anchor="end">10<tspan font-size="4.4" dy="-2.8">-5</tspan></text>
<text x="428.60" y="128.20" font-family="'Liberation Sans', sans-serif" font-size="6.8" text-anchor="end">10<tspan font-size="4.4" dy="-2.8">-7</tspan></text>
<text x="428.60" y="149.00" font-family="'Liberation Sans', sans-serif" font-size="6.8" text-anchor="end">10<tspan font-size="4.4" dy="-2.8">-9</tspan></text>
<text x="428.60" y="169.80" font-family="'Liberation Sans', sans-serif" font-size="6.8" text-anchor="end">10<tspan font-size="4.4" dy="-2.8">-11</tspan></text>
<text x="0" y="0" transform="translate(437.80,173.40) scale(0.92,1)" font-family="'Liberation Sans', sans-serif" font-size="7.0" font-weight="normal" fill="#000" text-anchor="middle" >180</text>
<text x="0" y="0" transform="translate(459.25,173.40) scale(0.92,1)" font-family="'Liberation Sans', sans-serif" font-size="7.0" font-weight="normal" fill="#000" text-anchor="middle" >210</text>
<text x="0" y="0" transform="translate(480.70,173.40) scale(0.92,1)" font-family="'Liberation Sans', sans-serif" font-size="7.0" font-weight="normal" fill="#000" text-anchor="middle" >240</text>
<text x="0" y="0" transform="translate(502.15,173.40) scale(0.92,1)" font-family="'Liberation Sans', sans-serif" font-size="7.0" font-weight="normal" fill="#000" text-anchor="middle" >270</text>
<text x="0" y="0" transform="translate(523.60,173.40) scale(0.92,1)" font-family="'Liberation Sans', sans-serif" font-size="7.0" font-weight="normal" fill="#000" text-anchor="middle" >300</text>
<polyline points="437.80,107.30 439.96,106.36 442.12,105.44 444.28,104.53 446.44,103.64 448.60,102.76 450.76,101.90 452.92,101.06 455.08,100.23 457.24,99.42 459.40,98.62 461.56,97.85 463.72,97.08 465.88,96.33 468.04,95.60 470.20,94.89 472.36,94.19 474.52,93.50 476.68,92.84 478.84,92.19 481.00,91.55 483.16,90.93 485.32,90.33 487.48,89.74 489.64,89.17 491.80,88.61 493.96,88.07 496.12,87.55 498.28,87.04 500.44,86.55 502.60,86.07 504.76,85.62 506.92,85.17 509.08,84.74 511.24,84.33 513.40,83.94 515.56,83.56 517.72,83.19 519.88,82.85 522.04,82.52 524.20,82.20" fill="none" stroke="#f0901e" stroke-width="2.4" stroke-linejoin="round" stroke-linecap="round" />
<polyline points="437.80,126.00 439.96,124.97 442.12,123.95 444.28,122.95 446.44,121.97 448.60,121.01 450.76,120.06 452.92,119.13 455.08,118.22 457.24,117.33 459.40,116.45 461.56,115.59 463.72,114.75 465.88,113.93 468.04,113.12 470.20,112.33 472.36,111.56 474.52,110.81 476.68,110.07 478.84,109.35 481.00,108.65 483.16,107.97 485.32,107.30 487.48,106.65 489.64,106.02 491.80,105.41 493.96,104.81 496.12,104.23 498.28,103.67 500.44,103.13 502.60,102.60 504.76,102.09 506.92,101.60 509.08,101.13 511.24,100.67 513.40,100.23 515.56,99.81 517.72,99.41 519.88,99.02 522.04,98.65 524.20,98.30" fill="none" stroke="#a8561a" stroke-width="2.4" stroke-linejoin="round" stroke-linecap="round" />
<polyline points="437.80,146.40 439.23,145.34 441.28,143.81 443.63,142.10 446.00,140.50 448.33,139.09 450.76,137.72 453.32,136.31 456.00,134.80 458.86,133.12 461.88,131.33 464.95,129.52 468.00,127.80 471.05,126.16 474.12,124.56 477.14,123.03 480.00,121.60 482.71,120.27 485.31,119.03 487.76,117.88 490.00,116.80 491.98,115.78 493.75,114.82 495.39,113.98 497.00,113.30 498.55,112.87 500.00,112.64 501.45,112.46 503.00,112.20 504.68,111.82 506.44,111.39 508.23,110.94 510.00,110.50 511.75,110.06 513.49,109.60 515.24,109.17 517.00,108.80 518.95,108.50 521.04,108.24 522.90,108.04 524.20,107.90" fill="none" stroke="#4a2a10" stroke-width="2.4" stroke-linejoin="round" stroke-linecap="round" />
<circle cx="464.60" cy="137.50" r="1.04" fill="#4a2a10" stroke="#4a2a10" stroke-width="0.3"/>
<text x="0" y="0" transform="translate(476.50,140.60) scale(0.985,1)" font-family="'Liberation Sans', sans-serif" font-size="8.3" font-weight="bold" fill="#000" text-anchor="start" >Bulk (280 μm)</text>
<circle cx="464.60" cy="147.65" r="1.04" fill="#a8561a" stroke="#a8561a" stroke-width="0.3"/>
<text x="0" y="0" transform="translate(476.50,150.75) scale(0.985,1)" font-family="'Liberation Sans', sans-serif" font-size="8.3" font-weight="bold" fill="#000" text-anchor="start" >330 nm</text>
<polygon points="464.60,156.52 463.32,158.70 465.88,158.70" fill="#f0901e" stroke="#f0901e" stroke-width="0.3"/>
<text x="0" y="0" transform="translate(476.50,160.90) scale(0.985,1)" font-family="'Liberation Sans', sans-serif" font-size="8.3" font-weight="bold" fill="#000" text-anchor="start" >52 nm</text>
<line x1="85.36" y1="383.40" x2="85.36" y2="378.80" stroke="#000" stroke-width="1.0" />
<line x1="85.36" y1="214.30" x2="85.36" y2="218.90" stroke="#000" stroke-width="1.0" />
<line x1="123.42" y1="383.40" x2="123.42" y2="378.80" stroke="#000" stroke-width="1.0" />
<line x1="123.42" y1="214.30" x2="123.42" y2="218.90" stroke="#000" stroke-width="1.0" />
<line x1="161.48" y1="383.40" x2="161.48" y2="378.80" stroke="#000" stroke-width="1.0" />
<line x1="161.48" y1="214.30" x2="161.48" y2="218.90" stroke="#000" stroke-width="1.0" />
<line x1="199.54" y1="383.40" x2="199.54" y2="378.80" stroke="#000" stroke-width="1.0" />
<line x1="199.54" y1="214.30" x2="199.54" y2="218.90" stroke="#000" stroke-width="1.0" />
<line x1="237.60" y1="383.40" x2="237.60" y2="378.80" stroke="#000" stroke-width="1.0" />
<line x1="237.60" y1="214.30" x2="237.60" y2="218.90" stroke="#000" stroke-width="1.0" />
<line x1="66.33" y1="383.40" x2="66.33" y2="380.80" stroke="#000" stroke-width="1.0" />
<line x1="66.33" y1="214.30" x2="66.33" y2="216.90" stroke="#000" stroke-width="1.0" />
<line x1="104.39" y1="383.40" x2="104.39" y2="380.80" stroke="#000" stroke-width="1.0" />
<line x1="104.39" y1="214.30" x2="104.39" y2="216.90" stroke="#000" stroke-width="1.0" />
<line x1="142.45" y1="383.40" x2="142.45" y2="380.80" stroke="#000" stroke-width="1.0" />
<line x1="142.45" y1="214.30" x2="142.45" y2="216.90" stroke="#000" stroke-width="1.0" />
<line x1="180.51" y1="383.40" x2="180.51" y2="380.80" stroke="#000" stroke-width="1.0" />
<line x1="180.51" y1="214.30" x2="180.51" y2="216.90" stroke="#000" stroke-width="1.0" />
<line x1="218.57" y1="383.40" x2="218.57" y2="380.80" stroke="#000" stroke-width="1.0" />
<line x1="218.57" y1="214.30" x2="218.57" y2="216.90" stroke="#000" stroke-width="1.0" />
<line x1="47.40" y1="224.50" x2="52.00" y2="224.50" stroke="#000" stroke-width="1.0" />
<line x1="256.90" y1="224.50" x2="252.30" y2="224.50" stroke="#000" stroke-width="1.0" />
<line x1="47.40" y1="264.18" x2="52.00" y2="264.18" stroke="#000" stroke-width="1.0" />
<line x1="256.90" y1="264.18" x2="252.30" y2="264.18" stroke="#000" stroke-width="1.0" />
<line x1="47.40" y1="303.85" x2="52.00" y2="303.85" stroke="#000" stroke-width="1.0" />
<line x1="256.90" y1="303.85" x2="252.30" y2="303.85" stroke="#000" stroke-width="1.0" />
<line x1="47.40" y1="343.52" x2="52.00" y2="343.52" stroke="#000" stroke-width="1.0" />
<line x1="256.90" y1="343.52" x2="252.30" y2="343.52" stroke="#000" stroke-width="1.0" />
<line x1="47.40" y1="244.34" x2="50.00" y2="244.34" stroke="#000" stroke-width="1.0" />
<line x1="256.90" y1="244.34" x2="254.30" y2="244.34" stroke="#000" stroke-width="1.0" />
<line x1="47.40" y1="284.01" x2="50.00" y2="284.01" stroke="#000" stroke-width="1.0" />
<line x1="256.90" y1="284.01" x2="254.30" y2="284.01" stroke="#000" stroke-width="1.0" />
<line x1="47.40" y1="323.69" x2="50.00" y2="323.69" stroke="#000" stroke-width="1.0" />
<line x1="256.90" y1="323.69" x2="254.30" y2="323.69" stroke="#000" stroke-width="1.0" />
<line x1="47.40" y1="363.36" x2="50.00" y2="363.36" stroke="#000" stroke-width="1.0" />
<line x1="256.90" y1="363.36" x2="254.30" y2="363.36" stroke="#000" stroke-width="1.0" />
<rect x="47.40" y="214.30" width="209.50" height="169.10" fill="none" stroke="#000" stroke-width="1.45"/>
<text x="0" y="0" transform="translate(41.20,227.80) scale(0.9,1)" font-family="'Liberation Sans', sans-serif" font-size="10.3" font-weight="normal" fill="#000" text-anchor="end" >-4</text>
<text x="0" y="0" transform="translate(41.20,267.48) scale(0.9,1)" font-family="'Liberation Sans', sans-serif" font-size="10.3" font-weight="normal" fill="#000" text-anchor="end" >-6</text>
<text x="0" y="0" transform="translate(41.20,307.15) scale(0.9,1)" font-family="'Liberation Sans', sans-serif" font-size="10.3" font-weight="normal" fill="#000" text-anchor="end" >-8</text>
<text x="0" y="0" transform="translate(41.20,346.82) scale(0.9,1)" font-family="'Liberation Sans', sans-serif" font-size="10.3" font-weight="normal" fill="#000" text-anchor="end" >-10</text>
<text x="0" y="0" transform="translate(41.20,386.50) scale(0.9,1)" font-family="'Liberation Sans', sans-serif" font-size="10.3" font-weight="normal" fill="#000" text-anchor="end" >-12</text>
<text x="0" y="0" transform="translate(47.30,396.80) scale(0.9,1)" font-family="'Liberation Sans', sans-serif" font-size="10.3" font-weight="normal" fill="#000" text-anchor="middle" >3.0</text>
<text x="0" y="0" transform="translate(85.36,396.80) scale(0.9,1)" font-family="'Liberation Sans', sans-serif" font-size="10.3" font-weight="normal" fill="#000" text-anchor="middle" >3.5</text>
<text x="0" y="0" transform="translate(123.42,396.80) scale(0.9,1)" font-family="'Liberation Sans', sans-serif" font-size="10.3" font-weight="normal" fill="#000" text-anchor="middle" >4.0</text>
<text x="0" y="0" transform="translate(161.48,396.80) scale(0.9,1)" font-family="'Liberation Sans', sans-serif" font-size="10.3" font-weight="normal" fill="#000" text-anchor="middle" >4.5</text>
<text x="0" y="0" transform="translate(199.54,396.80) scale(0.9,1)" font-family="'Liberation Sans', sans-serif" font-size="10.3" font-weight="normal" fill="#000" text-anchor="middle" >5.0</text>
<text x="0" y="0" transform="translate(237.60,396.80) scale(0.9,1)" font-family="'Liberation Sans', sans-serif" font-size="10.3" font-weight="normal" fill="#000" text-anchor="middle" >5.5</text>
<text x="152.3" y="415.2" font-family="'Liberation Sans', sans-serif" font-size="11" font-weight="bold" text-anchor="middle">1000/T (K<tspan font-size="7" dy="-4.2">-1</tspan><tspan dy="4.2">)</tspan></text>
<text x="0" y="0" transform="translate(22.50,336.90) rotate(-90)" font-family="'Liberation Sans', sans-serif" font-size="10.95" font-weight="bold" text-anchor="start">ln <tspan font-weight="normal">(σ) (Ω</tspan><tspan font-size="6.8" dy="-4.4">-1</tspan><tspan dy="4.4"> cm</tspan><tspan font-size="6.8" dy="-4.4">-1</tspan><tspan dy="4.4" font-weight="normal">)</tspan></text>
<text x="-0.60" y="219.80" font-family="'Liberation Serif', serif" font-size="17" font-weight="normal" fill="#000" text-anchor="start" >(c)</text>
<polyline points="241.83,328.43 237.42,326.46 231.48,323.73 224.65,320.49 217.52,317.04 210.62,313.64 204.38,310.58 199.02,307.89 194.18,305.37 189.43,302.91 184.41,300.40 178.78,297.71 172.26,294.76 164.57,291.36 156.06,287.59 147.34,283.64 138.92,279.75 131.21,276.14 124.55,273.01 118.88,270.45 113.81,268.28 109.17,266.38 104.78,264.63 100.50,262.91 96.20,261.09 91.62,259.08 86.81,256.96 82.15,254.87 77.97,252.94 74.53,251.32 72.11,250.14" fill="none" stroke="#f2c84a" stroke-width="2.7" stroke-linejoin="round" stroke-linecap="round" />
<polyline points="241.83,299.71 235.78,297.24 227.60,293.75 218.36,289.65 209.00,285.37 200.32,281.34 192.96,277.96 186.95,275.32 181.64,273.09 176.70,271.09 171.82,269.17 166.73,267.17 161.19,264.90 155.13,262.31 148.79,259.50 142.39,256.61 136.12,253.75 130.12,251.03 124.55,248.59 119.35,246.44 114.40,244.49 109.65,242.69 105.05,240.99 100.58,239.35 96.20,237.72 91.62,236.04 86.81,234.32 82.15,232.66 77.97,231.15 74.53,229.89 72.11,228.96" fill="none" stroke="#d6e870" stroke-width="2.7" stroke-linejoin="round" stroke-linecap="round" />
<polyline points="241.83,318.75 238.17,317.93 233.03,315.76 227.40,314.01 222.17,312.00 217.40,309.21 212.68,307.22 208.10,306.63 203.73,303.70 199.56,301.57 195.53,300.63 191.70,297.61 188.10,296.12 184.75,293.55 181.61,291.89 178.61,289.20 175.70,288.08 172.79,286.47 169.95,283.87 167.27,282.27 164.83,280.43 162.70,278.01 160.78,277.90 159.01,276.51 157.31,274.96 155.75,273.54 154.34,274.01 152.90,272.48 151.28,271.83 149.34,270.77 147.21,269.00 145.12,267.87 143.31,265.79 141.79,265.57 140.44,264.33 139.28,264.53 138.29,263.73 137.53,261.60 136.97,260.73 136.51,259.91 136.06,260.22 135.62,258.33 135.22,257.52 134.85,256.13 134.48,256.23 134.10,256.69 133.73,257.93 133.37,259.85 132.99,261.22 132.64,263.03 132.30,264.02 131.91,265.57 131.44,266.13 130.85,266.39 130.17,265.45 129.44,263.99 128.71,264.51 128.07,264.16 127.47,263.49 126.74,262.32 125.70,261.84 124.28,260.19 122.59,260.26 120.75,258.87 118.90,257.49 117.00,256.30 115.02,256.79 113.05,256.22 111.18,253.93 109.42,254.19 107.71,252.61 106.09,251.26 104.57,250.61 103.24,250.61 102.05,250.07 100.83,248.00 99.42,248.13 97.74,246.28 95.91,246.37 94.03,244.72 92.20,244.67 90.45,243.98 88.73,242.42 87.02,242.44 85.35,240.50 83.71,239.24 82.11,239.19 80.52,237.34 78.89,236.66 77.04,235.92 75.07,235.08 73.31,233.28 72.11,232.36" fill="none" stroke="#a2c866" stroke-width="3.4" stroke-linejoin="round" stroke-linecap="round" />
<circle cx="241.57" cy="318.85" r="1.3" fill="none" stroke="#8cb450" stroke-width="0.7"/>
<circle cx="238.37" cy="316.73" r="1.3" fill="none" stroke="#8cb450" stroke-width="0.7"/>
<circle cx="232.96" cy="315.55" r="1.3" fill="none" stroke="#8cb450" stroke-width="0.7"/>
<circle cx="227.78" cy="315.23" r="1.3" fill="none" stroke="#8cb450" stroke-width="0.7"/>
<circle cx="222.04" cy="313.11" r="1.3" fill="none" stroke="#8cb450" stroke-width="0.7"/>
<circle cx="217.69" cy="308.54" r="1.3" fill="none" stroke="#8cb450" stroke-width="0.7"/>
<circle cx="212.65" cy="306.17" r="1.3" fill="none" stroke="#8cb450" stroke-width="0.7"/>
<circle cx="208.41" cy="307.08" r="1.3" fill="none" stroke="#8cb450" stroke-width="0.7"/>
<circle cx="204.12" cy="304.52" r="1.3" fill="none" stroke="#8cb450" stroke-width="0.7"/>
<circle cx="199.72" cy="302.22" r="1.3" fill="none" stroke="#8cb450" stroke-width="0.7"/>
<circle cx="195.60" cy="299.52" r="1.3" fill="none" stroke="#8cb450" stroke-width="0.7"/>
<circle cx="191.79" cy="296.23" r="1.3" fill="none" stroke="#8cb450" stroke-width="0.7"/>
<circle cx="187.74" cy="296.88" r="1.3" fill="none" stroke="#8cb450" stroke-width="0.7"/>
<circle cx="184.30" cy="292.40" r="1.3" fill="none" stroke="#8cb450" stroke-width="0.7"/>
<circle cx="181.21" cy="292.96" r="1.3" fill="none" stroke="#8cb450" stroke-width="0.7"/>
<circle cx="178.29" cy="287.87" r="1.3" fill="none" stroke="#8cb450" stroke-width="0.7"/>
<circle cx="176.04" cy="287.02" r="1.3" fill="none" stroke="#8cb450" stroke-width="0.7"/>
<circle cx="173.14" cy="286.95" r="1.3" fill="none" stroke="#8cb450" stroke-width="0.7"/>
<circle cx="170.29" cy="285.13" r="1.3" fill="none" stroke="#8cb450" stroke-width="0.7"/>
<circle cx="167.35" cy="283.11" r="1.3" fill="none" stroke="#8cb450" stroke-width="0.7"/>
<circle cx="164.37" cy="281.18" r="1.3" fill="none" stroke="#8cb450" stroke-width="0.7"/>
<circle cx="162.71" cy="278.61" r="1.3" fill="none" stroke="#8cb450" stroke-width="0.7"/>
<circle cx="160.39" cy="278.59" r="1.3" fill="none" stroke="#8cb450" stroke-width="0.7"/>
<circle cx="159.45" cy="275.28" r="1.3" fill="none" stroke="#8cb450" stroke-width="0.7"/>
<circle cx="157.14" cy="275.14" r="1.3" fill="none" stroke="#8cb450" stroke-width="0.7"/>
<circle cx="156.08" cy="272.82" r="1.3" fill="none" stroke="#8cb450" stroke-width="0.7"/>
<circle cx="154.02" cy="273.31" r="1.3" fill="none" stroke="#8cb450" stroke-width="0.7"/>
<circle cx="153.01" cy="273.19" r="1.3" fill="none" stroke="#8cb450" stroke-width="0.7"/>
<circle cx="151.17" cy="271.46" r="1.3" fill="none" stroke="#8cb450" stroke-width="0.7"/>
<circle cx="149.23" cy="270.35" r="1.3" fill="none" stroke="#8cb450" stroke-width="0.7"/>
<circle cx="147.13" cy="267.83" r="1.3" fill="none" stroke="#8cb450" stroke-width="0.7"/>
<circle cx="145.12" cy="269.19" r="1.3" fill="none" stroke="#8cb450" stroke-width="0.7"/>
<circle cx="143.22" cy="266.48" r="1.3" fill="none" stroke="#8cb450" stroke-width="0.7"/>
<circle cx="141.45" cy="266.10" r="1.3" fill="none" stroke="#8cb450" stroke-width="0.7"/>
<circle cx="140.70" cy="264.82" r="1.3" fill="none" stroke="#8cb450" stroke-width="0.7"/>
<circle cx="139.30" cy="264.48" r="1.3" fill="none" stroke="#8cb450" stroke-width="0.7"/>
<circle cx="138.43" cy="264.84" r="1.3" fill="none" stroke="#8cb450" stroke-width="0.7"/>
<circle cx="137.18" cy="260.47" r="1.3" fill="none" stroke="#8cb450" stroke-width="0.7"/>
<circle cx="137.21" cy="261.89" r="1.3" fill="none" stroke="#8cb450" stroke-width="0.7"/>
<circle cx="136.53" cy="259.75" r="1.3" fill="none" stroke="#8cb450" stroke-width="0.7"/>
<circle cx="136.28" cy="259.34" r="1.3" fill="none" stroke="#8cb450" stroke-width="0.7"/>
<circle cx="135.39" cy="257.49" r="1.3" fill="none" stroke="#8cb450" stroke-width="0.7"/>
<circle cx="135.31" cy="257.00" r="1.3" fill="none" stroke="#8cb450" stroke-width="0.7"/>
<circle cx="134.58" cy="256.66" r="1.3" fill="none" stroke="#8cb450" stroke-width="0.7"/>
<circle cx="134.93" cy="255.66" r="1.3" fill="none" stroke="#8cb450" stroke-width="0.7"/>
<circle cx="134.31" cy="256.45" r="1.3" fill="none" stroke="#8cb450" stroke-width="0.7"/>
<circle cx="134.09" cy="258.17" r="1.3" fill="none" stroke="#8cb450" stroke-width="0.7"/>
<circle cx="133.13" cy="259.06" r="1.3" fill="none" stroke="#8cb450" stroke-width="0.7"/>
<circle cx="132.52" cy="261.17" r="1.3" fill="none" stroke="#8cb450" stroke-width="0.7"/>
<circle cx="132.52" cy="262.11" r="1.3" fill="none" stroke="#8cb450" stroke-width="0.7"/>
<circle cx="132.16" cy="263.52" r="1.3" fill="none" stroke="#8cb450" stroke-width="0.7"/>
<circle cx="132.19" cy="264.57" r="1.3" fill="none" stroke="#8cb450" stroke-width="0.7"/>
<circle cx="131.93" cy="266.07" r="1.3" fill="none" stroke="#8cb450" stroke-width="0.7"/>
<circle cx="130.94" cy="266.30" r="1.3" fill="none" stroke="#8cb450" stroke-width="0.7"/>
<circle cx="130.50" cy="266.35" r="1.3" fill="none" stroke="#8cb450" stroke-width="0.7"/>
<circle cx="129.50" cy="263.93" r="1.3" fill="none" stroke="#8cb450" stroke-width="0.7"/>
<circle cx="128.93" cy="265.51" r="1.3" fill="none" stroke="#8cb450" stroke-width="0.7"/>
<circle cx="127.97" cy="264.81" r="1.3" fill="none" stroke="#8cb450" stroke-width="0.7"/>
<circle cx="127.93" cy="263.40" r="1.3" fill="none" stroke="#8cb450" stroke-width="0.7"/>
<circle cx="126.47" cy="261.58" r="1.3" fill="none" stroke="#8cb450" stroke-width="0.7"/>
<circle cx="125.92" cy="262.33" r="1.3" fill="none" stroke="#8cb450" stroke-width="0.7"/>
<circle cx="124.74" cy="261.18" r="1.3" fill="none" stroke="#8cb450" stroke-width="0.7"/>
<circle cx="122.33" cy="259.39" r="1.3" fill="none" stroke="#8cb450" stroke-width="0.7"/>
<circle cx="120.51" cy="258.00" r="1.3" fill="none" stroke="#8cb450" stroke-width="0.7"/>
<circle cx="119.10" cy="258.50" r="1.3" fill="none" stroke="#8cb450" stroke-width="0.7"/>
<circle cx="117.40" cy="255.62" r="1.3" fill="none" stroke="#8cb450" stroke-width="0.7"/>
<circle cx="115.38" cy="256.27" r="1.3" fill="none" stroke="#8cb450" stroke-width="0.7"/>
<circle cx="112.97" cy="256.86" r="1.3" fill="none" stroke="#8cb450" stroke-width="0.7"/>
<circle cx="110.77" cy="252.79" r="1.3" fill="none" stroke="#8cb450" stroke-width="0.7"/>
<circle cx="109.75" cy="253.60" r="1.3" fill="none" stroke="#8cb450" stroke-width="0.7"/>
<circle cx="107.57" cy="252.84" r="1.3" fill="none" stroke="#8cb450" stroke-width="0.7"/>
<circle cx="106.27" cy="249.88" r="1.3" fill="none" stroke="#8cb450" stroke-width="0.7"/>
<circle cx="104.40" cy="250.43" r="1.3" fill="none" stroke="#8cb450" stroke-width="0.7"/>
<circle cx="103.22" cy="249.80" r="1.3" fill="none" stroke="#8cb450" stroke-width="0.7"/>
<circle cx="102.13" cy="251.34" r="1.3" fill="none" stroke="#8cb450" stroke-width="0.7"/>
<circle cx="100.72" cy="248.13" r="1.3" fill="none" stroke="#8cb450" stroke-width="0.7"/>
<circle cx="99.04" cy="247.50" r="1.3" fill="none" stroke="#8cb450" stroke-width="0.7"/>
<circle cx="97.91" cy="245.20" r="1.3" fill="none" stroke="#8cb450" stroke-width="0.7"/>
<circle cx="96.30" cy="247.51" r="1.3" fill="none" stroke="#8cb450" stroke-width="0.7"/>
<circle cx="93.62" cy="245.96" r="1.3" fill="none" stroke="#8cb450" stroke-width="0.7"/>
<circle cx="92.08" cy="245.43" r="1.3" fill="none" stroke="#8cb450" stroke-width="0.7"/>
<circle cx="90.71" cy="243.41" r="1.3" fill="none" stroke="#8cb450" stroke-width="0.7"/>
<circle cx="88.90" cy="242.85" r="1.3" fill="none" stroke="#8cb450" stroke-width="0.7"/>
<circle cx="87.33" cy="241.78" r="1.3" fill="none" stroke="#8cb450" stroke-width="0.7"/>
<circle cx="85.60" cy="241.79" r="1.3" fill="none" stroke="#8cb450" stroke-width="0.7"/>
<circle cx="83.89" cy="239.35" r="1.3" fill="none" stroke="#8cb450" stroke-width="0.7"/>
<circle cx="81.73" cy="239.18" r="1.3" fill="none" stroke="#8cb450" stroke-width="0.7"/>
<circle cx="80.37" cy="237.96" r="1.3" fill="none" stroke="#8cb450" stroke-width="0.7"/>
<circle cx="79.06" cy="236.85" r="1.3" fill="none" stroke="#8cb450" stroke-width="0.7"/>
<circle cx="76.72" cy="236.33" r="1.3" fill="none" stroke="#8cb450" stroke-width="0.7"/>
<circle cx="75.20" cy="234.18" r="1.3" fill="none" stroke="#8cb450" stroke-width="0.7"/>
<circle cx="73.70" cy="233.71" r="1.3" fill="none" stroke="#8cb450" stroke-width="0.7"/>
<circle cx="71.73" cy="233.56" r="1.3" fill="none" stroke="#8cb450" stroke-width="0.7"/>
<polyline points="241.83,315.93 237.32,314.41 231.23,312.29 224.24,309.79 216.98,307.12 209.99,304.50 203.73,302.14 198.14,300.03 192.79,297.98 187.61,295.98 182.50,294.01 177.40,292.04 172.26,290.05 166.90,288.00 161.37,285.87 155.90,283.75 150.69,281.71 145.92,279.81 141.74,278.13 138.19,276.70 135.11,275.49 132.34,274.42 129.75,273.43 127.19,272.44 124.55,271.39 121.93,270.32 119.47,269.28 117.04,268.25 114.54,267.19 111.87,266.05 108.94,264.82 105.68,263.45 102.17,261.96 98.55,260.41 94.96,258.83 91.51,257.29 88.32,255.81 85.17,254.33 81.94,252.77 78.84,251.24 76.05,249.83 73.76,248.65 72.11,247.78" fill="none" stroke="#1f5212" stroke-width="3.3" stroke-linejoin="round" stroke-linecap="round" />
<polyline points="241.83,303.52 237.32,302.17 231.24,300.28 224.26,298.05 217.00,295.68 210.00,293.35 203.73,291.27 198.11,289.40 192.71,287.57 187.47,285.80 182.32,284.07 177.19,282.38 172.04,280.72 166.95,279.12 161.98,277.56 157.04,276.05 152.07,274.56 146.99,273.10 141.74,271.64 136.44,270.19 131.17,268.77 125.85,267.36 120.41,265.97 114.79,264.58 108.94,263.20 102.31,261.72 94.97,260.14 87.69,258.57 81.11,257.12 75.77,255.89 72.11,255.00" fill="none" stroke="#3c7c22" stroke-width="3.0" stroke-linejoin="round" stroke-linecap="round" />
<line x1="47.90" y1="219.00" x2="256.40" y2="299.50" stroke="#e42a2a" stroke-width="1.8" stroke-dasharray="1.6 4.8" stroke-linecap="butt"/>
<line x1="47.90" y1="222.40" x2="256.40" y2="322.00" stroke="#e42a2a" stroke-width="1.8" stroke-dasharray="1.6 4.8" stroke-linecap="butt"/>
<line x1="47.90" y1="238.50" x2="256.40" y2="325.00" stroke="#e42a2a" stroke-width="1.8" stroke-dasharray="1.6 4.8" stroke-linecap="butt"/>
<line x1="47.90" y1="248.20" x2="256.40" y2="302.00" stroke="#e42a2a" stroke-width="1.8" stroke-dasharray="1.6 4.8" stroke-linecap="butt"/>
<polygon points="174.40,325.12 172.78,322.37 176.02,322.37" fill="#f0b030" stroke="#f0b030" stroke-width="0.3"/>
<text x="0" y="0" transform="translate(186.70,327.50) scale(0.94,1)" font-family="'Liberation Sans', sans-serif" font-size="10.2" font-weight="bold" fill="#000" text-anchor="start" >25 nm</text>
<polygon points="174.40,333.94 175.96,335.50 174.40,337.06 172.84,335.50" fill="#c8dc40" stroke="#c8dc40" stroke-width="0.3"/>
<text x="0" y="0" transform="translate(186.70,339.50) scale(0.94,1)" font-family="'Liberation Sans', sans-serif" font-size="10.2" font-weight="bold" fill="#000" text-anchor="start" >12 nm</text>
<polygon points="172.78,347.50 175.53,345.88 175.53,349.12" fill="#c8d8a8" stroke="#c8d8a8" stroke-width="0.3"/>
<text x="0" y="0" transform="translate(186.70,351.50) scale(0.94,1)" font-family="'Liberation Sans', sans-serif" font-size="10.2" font-weight="bold" fill="#000" text-anchor="start" >10 nm (hBN)</text>
<polygon points="176.02,359.50 173.27,357.88 173.27,361.12" fill="#a8c890" stroke="#a8c890" stroke-width="0.3"/>
<text x="0" y="0" transform="translate(186.70,363.50) scale(0.94,1)" font-family="'Liberation Sans', sans-serif" font-size="10.2" font-weight="bold" fill="#000" text-anchor="start" >8 nm (hBN)</text>
<circle cx="174.40" cy="371.50" r="1.32" fill="#205010" stroke="#205010" stroke-width="0.3"/>
<text x="0" y="0" transform="translate(186.70,375.50) scale(0.94,1)" font-family="'Liberation Sans', sans-serif" font-size="10.2" font-weight="bold" fill="#000" text-anchor="start" >5 nm</text>
<rect x="59.7" y="290.5" width="94.60000000000001" height="81.89999999999998" fill="#fff"/>
<line x1="91.23" y1="372.40" x2="91.23" y2="369.40" stroke="#000" stroke-width="0.8" />
<line x1="91.23" y1="290.50" x2="91.23" y2="293.50" stroke="#000" stroke-width="0.8" />
<line x1="122.77" y1="372.40" x2="122.77" y2="369.40" stroke="#000" stroke-width="0.8" />
<line x1="122.77" y1="290.50" x2="122.77" y2="293.50" stroke="#000" stroke-width="0.8" />
<line x1="75.47" y1="372.40" x2="75.47" y2="370.60" stroke="#000" stroke-width="0.8" />
<line x1="75.47" y1="290.50" x2="75.47" y2="292.30" stroke="#000" stroke-width="0.8" />
<line x1="107.00" y1="372.40" x2="107.00" y2="370.60" stroke="#000" stroke-width="0.8" />
<line x1="107.00" y1="290.50" x2="107.00" y2="292.30" stroke="#000" stroke-width="0.8" />
<line x1="138.53" y1="372.40" x2="138.53" y2="370.60" stroke="#000" stroke-width="0.8" />
<line x1="138.53" y1="290.50" x2="138.53" y2="292.30" stroke="#000" stroke-width="0.8" />
<line x1="59.70" y1="297.95" x2="62.70" y2="297.95" stroke="#000" stroke-width="0.8" />
<line x1="154.30" y1="297.95" x2="151.30" y2="297.95" stroke="#000" stroke-width="0.8" />
<line x1="59.70" y1="312.84" x2="62.70" y2="312.84" stroke="#000" stroke-width="0.8" />
<line x1="154.30" y1="312.84" x2="151.30" y2="312.84" stroke="#000" stroke-width="0.8" />
<line x1="59.70" y1="327.73" x2="62.70" y2="327.73" stroke="#000" stroke-width="0.8" />
<line x1="154.30" y1="327.73" x2="151.30" y2="327.73" stroke="#000" stroke-width="0.8" />
<line x1="59.70" y1="342.62" x2="62.70" y2="342.62" stroke="#000" stroke-width="0.8" />
<line x1="154.30" y1="342.62" x2="151.30" y2="342.62" stroke="#000" stroke-width="0.8" />
<line x1="59.70" y1="357.51" x2="62.70" y2="357.51" stroke="#000" stroke-width="0.8" />
<line x1="154.30" y1="357.51" x2="151.30" y2="357.51" stroke="#000" stroke-width="0.8" />
<line x1="59.70" y1="305.39" x2="61.50" y2="305.39" stroke="#000" stroke-width="0.8" />
<line x1="154.30" y1="305.39" x2="152.50" y2="305.39" stroke="#000" stroke-width="0.8" />
<line x1="59.70" y1="320.28" x2="61.50" y2="320.28" stroke="#000" stroke-width="0.8" />
<line x1="154.30" y1="320.28" x2="152.50" y2="320.28" stroke="#000" stroke-width="0.8" />
<line x1="59.70" y1="335.17" x2="61.50" y2="335.17" stroke="#000" stroke-width="0.8" />
<line x1="154.30" y1="335.17" x2="152.50" y2="335.17" stroke="#000" stroke-width="0.8" />
<line x1="59.70" y1="350.06" x2="61.50" y2="350.06" stroke="#000" stroke-width="0.8" />
<line x1="154.30" y1="350.06" x2="152.50" y2="350.06" stroke="#000" stroke-width="0.8" />
<line x1="59.70" y1="364.95" x2="61.50" y2="364.95" stroke="#000" stroke-width="0.8" />
<line x1="154.30" y1="364.95" x2="152.50" y2="364.95" stroke="#000" stroke-width="0.8" />
<rect x="59.70" y="290.50" width="94.60" height="81.90" fill="none" stroke="#303030" stroke-width="1.05"/>
<text x="57.70" y="300.15" font-family="'Liberation Sans', sans-serif" font-size="6.0" font-weight="normal" fill="#000" text-anchor="end" >-8</text>
<text x="57.70" y="315.04" font-family="'Liberation Sans', sans-serif" font-size="6.0" font-weight="normal" fill="#000" text-anchor="end" >-12</text>
<text x="57.70" y="329.93" font-family="'Liberation Sans', sans-serif" font-size="6.0" font-weight="normal" fill="#000" text-anchor="end" >-16</text>
<text x="57.70" y="344.82" font-family="'Liberation Sans', sans-serif" font-size="6.0" font-weight="normal" fill="#000" text-anchor="end" >-20</text>
<text x="57.70" y="359.71" font-family="'Liberation Sans', sans-serif" font-size="6.0" font-weight="normal" fill="#000" text-anchor="end" >-24</text>
<text x="57.70" y="374.60" font-family="'Liberation Sans', sans-serif" font-size="6.0" font-weight="normal" fill="#000" text-anchor="end" >-28</text>
<text x="59.70" y="380.40" font-family="'Liberation Sans', sans-serif" font-size="6.6" font-weight="normal" fill="#000" text-anchor="middle" >3</text>
<text x="91.23" y="380.40" font-family="'Liberation Sans', sans-serif" font-size="6.6" font-weight="normal" fill="#000" text-anchor="middle" >4</text>
<text x="122.77" y="380.40" font-family="'Liberation Sans', sans-serif" font-size="6.6" font-weight="normal" fill="#000" text-anchor="middle" >5</text>
<text x="154.30" y="380.40" font-family="'Liberation Sans', sans-serif" font-size="6.6" font-weight="normal" fill="#000" text-anchor="middle" >6</text>
<line x1="60.70" y1="302.00" x2="153.30" y2="334.60" stroke="#e83030" stroke-width="1.2" stroke-dasharray="1.2 3.2"/>
<line x1="60.70" y1="309.20" x2="153.30" y2="346.20" stroke="#e83030" stroke-width="1.2" stroke-dasharray="1.2 3.2"/>
<line x1="60.70" y1="288.60" x2="153.30" y2="317.80" stroke="#e83030" stroke-width="1.2" stroke-dasharray="1.2 3.2"/>
<polyline points="69.60,291.90 140.40,313.10" fill="none" stroke="#f0901e" stroke-width="2.2" stroke-linejoin="round" stroke-linecap="round" />
<polyline points="69.60,305.60 140.40,329.40" fill="none" stroke="#a8561a" stroke-width="2.2" stroke-linejoin="round" stroke-linecap="round" />
<polyline points="69.60,314.20 71.07,314.69 73.18,315.41 75.53,316.19 77.70,316.90 79.67,317.50 81.64,318.07 83.51,318.63 85.20,319.20 86.49,319.71 87.49,320.17 88.62,320.74 90.30,321.60 92.72,322.83 95.63,324.34 98.80,325.97 102.00,327.60 105.25,329.21 108.64,330.88 112.07,332.55 115.40,334.20 118.61,335.81 121.76,337.41 124.88,339.00 128.00,340.60 131.42,342.37 135.04,344.25 138.26,345.93 140.50,347.10" fill="none" stroke="#4a2a10" stroke-width="2.2" stroke-linejoin="round" stroke-linecap="round" />
<circle cx="66.40" cy="347.30" r="1.10" fill="#4a2a10" stroke="#4a2a10" stroke-width="0.3"/>
<text x="76.40" y="350.30" font-family="'Liberation Sans', sans-serif" font-size="8.3" font-weight="bold" fill="#000" text-anchor="start" >Bulk (280 μm)</text>
<circle cx="66.40" cy="357.40" r="1.10" fill="#a8561a" stroke="#a8561a" stroke-width="0.3"/>
<text x="76.40" y="360.40" font-family="'Liberation Sans', sans-serif" font-size="8.3" font-weight="bold" fill="#000" text-anchor="start" >330 nm</text>
<circle cx="66.40" cy="367.50" r="1.10" fill="#f0901e" stroke="#f0901e" stroke-width="0.3"/>
<text x="76.40" y="370.50" font-family="'Liberation Sans', sans-serif" font-size="8.3" font-weight="bold" fill="#000" text-anchor="start" >52 nm</text>
<line x1="330.46" y1="385.10" x2="330.46" y2="382.80" stroke="#000" stroke-width="1.0" />
<line x1="330.46" y1="216.20" x2="330.46" y2="218.50" stroke="#000" stroke-width="1.0" />
<line x1="335.76" y1="385.10" x2="335.76" y2="382.80" stroke="#000" stroke-width="1.0" />
<line x1="335.76" y1="216.20" x2="335.76" y2="218.50" stroke="#000" stroke-width="1.0" />
<line x1="339.52" y1="385.10" x2="339.52" y2="382.80" stroke="#000" stroke-width="1.0" />
<line x1="339.52" y1="216.20" x2="339.52" y2="218.50" stroke="#000" stroke-width="1.0" />
<line x1="342.44" y1="385.10" x2="342.44" y2="382.80" stroke="#000" stroke-width="1.0" />
<line x1="342.44" y1="216.20" x2="342.44" y2="218.50" stroke="#000" stroke-width="1.0" />
<line x1="344.82" y1="385.10" x2="344.82" y2="382.80" stroke="#000" stroke-width="1.0" />
<line x1="344.82" y1="216.20" x2="344.82" y2="218.50" stroke="#000" stroke-width="1.0" />
<line x1="346.84" y1="385.10" x2="346.84" y2="382.80" stroke="#000" stroke-width="1.0" />
<line x1="346.84" y1="216.20" x2="346.84" y2="218.50" stroke="#000" stroke-width="1.0" />
<line x1="348.58" y1="385.10" x2="348.58" y2="382.80" stroke="#000" stroke-width="1.0" />
<line x1="348.58" y1="216.20" x2="348.58" y2="218.50" stroke="#000" stroke-width="1.0" />
<line x1="350.12" y1="385.10" x2="350.12" y2="382.80" stroke="#000" stroke-width="1.0" />
<line x1="350.12" y1="216.20" x2="350.12" y2="218.50" stroke="#000" stroke-width="1.0" />
<line x1="351.50" y1="385.10" x2="351.50" y2="380.60" stroke="#000" stroke-width="1.0" />
<line x1="351.50" y1="216.20" x2="351.50" y2="220.70" stroke="#000" stroke-width="1.0" />
<line x1="360.56" y1="385.10" x2="360.56" y2="382.80" stroke="#000" stroke-width="1.0" />
<line x1="360.56" y1="216.20" x2="360.56" y2="218.50" stroke="#000" stroke-width="1.0" />
<line x1="365.86" y1="385.10" x2="365.86" y2="382.80" stroke="#000" stroke-width="1.0" />
<line x1="365.86" y1="216.20" x2="365.86" y2="218.50" stroke="#000" stroke-width="1.0" />
<line x1="369.62" y1="385.10" x2="369.62" y2="382.80" stroke="#000" stroke-width="1.0" />
<line x1="369.62" y1="216.20" x2="369.62" y2="218.50" stroke="#000" stroke-width="1.0" />
<line x1="372.54" y1="385.10" x2="372.54" y2="382.80" stroke="#000" stroke-width="1.0" />
<line x1="372.54" y1="216.20" x2="372.54" y2="218.50" stroke="#000" stroke-width="1.0" />
<line x1="374.92" y1="385.10" x2="374.92" y2="382.80" stroke="#000" stroke-width="1.0" />
<line x1="374.92" y1="216.20" x2="374.92" y2="218.50" stroke="#000" stroke-width="1.0" />
<line x1="376.94" y1="385.10" x2="376.94" y2="382.80" stroke="#000" stroke-width="1.0" />
<line x1="376.94" y1="216.20" x2="376.94" y2="218.50" stroke="#000" stroke-width="1.0" />
<line x1="378.68" y1="385.10" x2="378.68" y2="382.80" stroke="#000" stroke-width="1.0" />
<line x1="378.68" y1="216.20" x2="378.68" y2="218.50" stroke="#000" stroke-width="1.0" />
<line x1="380.22" y1="385.10" x2="380.22" y2="382.80" stroke="#000" stroke-width="1.0" />
<line x1="380.22" y1="216.20" x2="380.22" y2="218.50" stroke="#000" stroke-width="1.0" />
<line x1="381.60" y1="385.10" x2="381.60" y2="380.60" stroke="#000" stroke-width="1.0" />
<line x1="381.60" y1="216.20" x2="381.60" y2="220.70" stroke="#000" stroke-width="1.0" />
<line x1="390.66" y1="385.10" x2="390.66" y2="382.80" stroke="#000" stroke-width="1.0" />
<line x1="390.66" y1="216.20" x2="390.66" y2="218.50" stroke="#000" stroke-width="1.0" />
<line x1="395.96" y1="385.10" x2="395.96" y2="382.80" stroke="#000" stroke-width="1.0" />
<line x1="395.96" y1="216.20" x2="395.96" y2="218.50" stroke="#000" stroke-width="1.0" />
<line x1="399.72" y1="385.10" x2="399.72" y2="382.80" stroke="#000" stroke-width="1.0" />
<line x1="399.72" y1="216.20" x2="399.72" y2="218.50" stroke="#000" stroke-width="1.0" />
<line x1="402.64" y1="385.10" x2="402.64" y2="382.80" stroke="#000" stroke-width="1.0" />
<line x1="402.64" y1="216.20" x2="402.64" y2="218.50" stroke="#000" stroke-width="1.0" />
<line x1="405.02" y1="385.10" x2="405.02" y2="382.80" stroke="#000" stroke-width="1.0" />
<line x1="405.02" y1="216.20" x2="405.02" y2="218.50" stroke="#000" stroke-width="1.0" />
<line x1="407.04" y1="385.10" x2="407.04" y2="382.80" stroke="#000" stroke-width="1.0" />
<line x1="407.04" y1="216.20" x2="407.04" y2="218.50" stroke="#000" stroke-width="1.0" />
<line x1="408.78" y1="385.10" x2="408.78" y2="382.80" stroke="#000" stroke-width="1.0" />
<line x1="408.78" y1="216.20" x2="408.78" y2="218.50" stroke="#000" stroke-width="1.0" />
<line x1="410.32" y1="385.10" x2="410.32" y2="382.80" stroke="#000" stroke-width="1.0" />
<line x1="410.32" y1="216.20" x2="410.32" y2="218.50" stroke="#000" stroke-width="1.0" />
<line x1="411.70" y1="385.10" x2="411.70" y2="380.60" stroke="#000" stroke-width="1.0" />
<line x1="411.70" y1="216.20" x2="411.70" y2="220.70" stroke="#000" stroke-width="1.0" />
<line x1="420.76" y1="385.10" x2="420.76" y2="382.80" stroke="#000" stroke-width="1.0" />
<line x1="420.76" y1="216.20" x2="420.76" y2="218.50" stroke="#000" stroke-width="1.0" />
<line x1="426.06" y1="385.10" x2="426.06" y2="382.80" stroke="#000" stroke-width="1.0" />
<line x1="426.06" y1="216.20" x2="426.06" y2="218.50" stroke="#000" stroke-width="1.0" />
<line x1="429.82" y1="385.10" x2="429.82" y2="382.80" stroke="#000" stroke-width="1.0" />
<line x1="429.82" y1="216.20" x2="429.82" y2="218.50" stroke="#000" stroke-width="1.0" />
<line x1="432.74" y1="385.10" x2="432.74" y2="382.80" stroke="#000" stroke-width="1.0" />
<line x1="432.74" y1="216.20" x2="432.74" y2="218.50" stroke="#000" stroke-width="1.0" />
<line x1="435.12" y1="385.10" x2="435.12" y2="382.80" stroke="#000" stroke-width="1.0" />
<line x1="435.12" y1="216.20" x2="435.12" y2="218.50" stroke="#000" stroke-width="1.0" />
<line x1="437.14" y1="385.10" x2="437.14" y2="382.80" stroke="#000" stroke-width="1.0" />
<line x1="437.14" y1="216.20" x2="437.14" y2="218.50" stroke="#000" stroke-width="1.0" />
<line x1="438.88" y1="385.10" x2="438.88" y2="382.80" stroke="#000" stroke-width="1.0" />
<line x1="438.88" y1="216.20" x2="438.88" y2="218.50" stroke="#000" stroke-width="1.0" />
<line x1="440.42" y1="385.10" x2="440.42" y2="382.80" stroke="#000" stroke-width="1.0" />
<line x1="440.42" y1="216.20" x2="440.42" y2="218.50" stroke="#000" stroke-width="1.0" />
<line x1="441.80" y1="385.10" x2="441.80" y2="380.60" stroke="#000" stroke-width="1.0" />
<line x1="441.80" y1="216.20" x2="441.80" y2="220.70" stroke="#000" stroke-width="1.0" />
<line x1="450.86" y1="385.10" x2="450.86" y2="382.80" stroke="#000" stroke-width="1.0" />
<line x1="450.86" y1="216.20" x2="450.86" y2="218.50" stroke="#000" stroke-width="1.0" />
<line x1="456.16" y1="385.10" x2="456.16" y2="382.80" stroke="#000" stroke-width="1.0" />
<line x1="456.16" y1="216.20" x2="456.16" y2="218.50" stroke="#000" stroke-width="1.0" />
<line x1="459.92" y1="385.10" x2="459.92" y2="382.80" stroke="#000" stroke-width="1.0" />
<line x1="459.92" y1="216.20" x2="459.92" y2="218.50" stroke="#000" stroke-width="1.0" />
<line x1="462.84" y1="385.10" x2="462.84" y2="382.80" stroke="#000" stroke-width="1.0" />
<line x1="462.84" y1="216.20" x2="462.84" y2="218.50" stroke="#000" stroke-width="1.0" />
<line x1="465.22" y1="385.10" x2="465.22" y2="382.80" stroke="#000" stroke-width="1.0" />
<line x1="465.22" y1="216.20" x2="465.22" y2="218.50" stroke="#000" stroke-width="1.0" />
<line x1="467.24" y1="385.10" x2="467.24" y2="382.80" stroke="#000" stroke-width="1.0" />
<line x1="467.24" y1="216.20" x2="467.24" y2="218.50" stroke="#000" stroke-width="1.0" />
<line x1="468.98" y1="385.10" x2="468.98" y2="382.80" stroke="#000" stroke-width="1.0" />
<line x1="468.98" y1="216.20" x2="468.98" y2="218.50" stroke="#000" stroke-width="1.0" />
<line x1="470.52" y1="385.10" x2="470.52" y2="382.80" stroke="#000" stroke-width="1.0" />
<line x1="470.52" y1="216.20" x2="470.52" y2="218.50" stroke="#000" stroke-width="1.0" />
<line x1="471.90" y1="385.10" x2="471.90" y2="380.60" stroke="#000" stroke-width="1.0" />
<line x1="471.90" y1="216.20" x2="471.90" y2="220.70" stroke="#000" stroke-width="1.0" />
<line x1="480.96" y1="385.10" x2="480.96" y2="382.80" stroke="#000" stroke-width="1.0" />
<line x1="480.96" y1="216.20" x2="480.96" y2="218.50" stroke="#000" stroke-width="1.0" />
<line x1="486.26" y1="385.10" x2="486.26" y2="382.80" stroke="#000" stroke-width="1.0" />
<line x1="486.26" y1="216.20" x2="486.26" y2="218.50" stroke="#000" stroke-width="1.0" />
<line x1="490.02" y1="385.10" x2="490.02" y2="382.80" stroke="#000" stroke-width="1.0" />
<line x1="490.02" y1="216.20" x2="490.02" y2="218.50" stroke="#000" stroke-width="1.0" />
<line x1="492.94" y1="385.10" x2="492.94" y2="382.80" stroke="#000" stroke-width="1.0" />
<line x1="492.94" y1="216.20" x2="492.94" y2="218.50" stroke="#000" stroke-width="1.0" />
<line x1="495.32" y1="385.10" x2="495.32" y2="382.80" stroke="#000" stroke-width="1.0" />
<line x1="495.32" y1="216.20" x2="495.32" y2="218.50" stroke="#000" stroke-width="1.0" />
<line x1="497.34" y1="385.10" x2="497.34" y2="382.80" stroke="#000" stroke-width="1.0" />
<line x1="497.34" y1="216.20" x2="497.34" y2="218.50" stroke="#000" stroke-width="1.0" />
<line x1="499.08" y1="385.10" x2="499.08" y2="382.80" stroke="#000" stroke-width="1.0" />
<line x1="499.08" y1="216.20" x2="499.08" y2="218.50" stroke="#000" stroke-width="1.0" />
<line x1="500.62" y1="385.10" x2="500.62" y2="382.80" stroke="#000" stroke-width="1.0" />
<line x1="500.62" y1="216.20" x2="500.62" y2="218.50" stroke="#000" stroke-width="1.0" />
<line x1="502.00" y1="385.10" x2="502.00" y2="380.60" stroke="#000" stroke-width="1.0" />
<line x1="502.00" y1="216.20" x2="502.00" y2="220.70" stroke="#000" stroke-width="1.0" />
<line x1="511.06" y1="385.10" x2="511.06" y2="382.80" stroke="#000" stroke-width="1.0" />
<line x1="511.06" y1="216.20" x2="511.06" y2="218.50" stroke="#000" stroke-width="1.0" />
<line x1="516.36" y1="385.10" x2="516.36" y2="382.80" stroke="#000" stroke-width="1.0" />
<line x1="516.36" y1="216.20" x2="516.36" y2="218.50" stroke="#000" stroke-width="1.0" />
<line x1="520.12" y1="385.10" x2="520.12" y2="382.80" stroke="#000" stroke-width="1.0" />
<line x1="520.12" y1="216.20" x2="520.12" y2="218.50" stroke="#000" stroke-width="1.0" />
<line x1="523.04" y1="385.10" x2="523.04" y2="382.80" stroke="#000" stroke-width="1.0" />
<line x1="523.04" y1="216.20" x2="523.04" y2="218.50" stroke="#000" stroke-width="1.0" />
<line x1="525.42" y1="385.10" x2="525.42" y2="382.80" stroke="#000" stroke-width="1.0" />
<line x1="525.42" y1="216.20" x2="525.42" y2="218.50" stroke="#000" stroke-width="1.0" />
<line x1="527.44" y1="385.10" x2="527.44" y2="382.80" stroke="#000" stroke-width="1.0" />
<line x1="527.44" y1="216.20" x2="527.44" y2="218.50" stroke="#000" stroke-width="1.0" />
<line x1="529.18" y1="385.10" x2="529.18" y2="382.80" stroke="#000" stroke-width="1.0" />
<line x1="529.18" y1="216.20" x2="529.18" y2="218.50" stroke="#000" stroke-width="1.0" />
<line x1="530.72" y1="385.10" x2="530.72" y2="382.80" stroke="#000" stroke-width="1.0" />
<line x1="530.72" y1="216.20" x2="530.72" y2="218.50" stroke="#000" stroke-width="1.0" />
<line x1="321.50" y1="343.00" x2="326.10" y2="343.00" stroke="#000" stroke-width="1.0" />
<line x1="532.00" y1="343.00" x2="527.40" y2="343.00" stroke="#000" stroke-width="1.0" />
<line x1="321.50" y1="301.00" x2="326.10" y2="301.00" stroke="#000" stroke-width="1.0" />
<line x1="532.00" y1="301.00" x2="527.40" y2="301.00" stroke="#000" stroke-width="1.0" />
<line x1="321.50" y1="259.00" x2="326.10" y2="259.00" stroke="#000" stroke-width="1.0" />
<line x1="532.00" y1="259.00" x2="527.40" y2="259.00" stroke="#000" stroke-width="1.0" />
<line x1="321.50" y1="364.00" x2="324.10" y2="364.00" stroke="#000" stroke-width="1.0" />
<line x1="532.00" y1="364.00" x2="529.40" y2="364.00" stroke="#000" stroke-width="1.0" />
<line x1="321.50" y1="322.00" x2="324.10" y2="322.00" stroke="#000" stroke-width="1.0" />
<line x1="532.00" y1="322.00" x2="529.40" y2="322.00" stroke="#000" stroke-width="1.0" />
<line x1="321.50" y1="280.00" x2="324.10" y2="280.00" stroke="#000" stroke-width="1.0" />
<line x1="532.00" y1="280.00" x2="529.40" y2="280.00" stroke="#000" stroke-width="1.0" />
<line x1="321.50" y1="238.00" x2="324.10" y2="238.00" stroke="#000" stroke-width="1.0" />
<line x1="532.00" y1="238.00" x2="529.40" y2="238.00" stroke="#000" stroke-width="1.0" />
<rect x="321.50" y="216.20" width="210.50" height="168.90" fill="none" stroke="#000" stroke-width="1.45"/>
<text x="0" y="0" transform="translate(316.00,388.10) scale(0.9,1)" font-family="'Liberation Sans', sans-serif" font-size="10.3" font-weight="normal" fill="#000" text-anchor="end" >0.0</text>
<text x="0" y="0" transform="translate(316.00,346.10) scale(0.9,1)" font-family="'Liberation Sans', sans-serif" font-size="10.3" font-weight="normal" fill="#000" text-anchor="end" >0.1</text>
<text x="0" y="0" transform="translate(316.00,304.10) scale(0.9,1)" font-family="'Liberation Sans', sans-serif" font-size="10.3" font-weight="normal" fill="#000" text-anchor="end" >0.2</text>
<text x="0" y="0" transform="translate(316.00,262.10) scale(0.9,1)" font-family="'Liberation Sans', sans-serif" font-size="10.3" font-weight="normal" fill="#000" text-anchor="end" >0.3</text>
<text x="0" y="0" transform="translate(316.00,220.10) scale(0.9,1)" font-family="'Liberation Sans', sans-serif" font-size="10.3" font-weight="normal" fill="#000" text-anchor="end" >0.4</text>
<text x="0" y="0" transform="translate(314.50,400.50) scale(0.88,1)" font-family="'Liberation Sans', sans-serif" font-size="10.2" fill="#000" text-anchor="start">10<tspan font-size="6.0" dy="-5.5">-1</tspan></text>
<text x="0" y="0" transform="translate(344.60,400.50) scale(0.88,1)" font-family="'Liberation Sans', sans-serif" font-size="10.2" fill="#000" text-anchor="start">10<tspan font-size="6.0" dy="-5.5">0</tspan></text>
<text x="0" y="0" transform="translate(374.70,400.50) scale(0.88,1)" font-family="'Liberation Sans', sans-serif" font-size="10.2" fill="#000" text-anchor="start">10<tspan font-size="6.0" dy="-5.5">1</tspan></text>
<text x="0" y="0" transform="translate(404.80,400.50) scale(0.88,1)" font-family="'Liberation Sans', sans-serif" font-size="10.2" fill="#000" text-anchor="start">10<tspan font-size="6.0" dy="-5.5">2</tspan></text>
<text x="0" y="0" transform="translate(434.90,400.50) scale(0.88,1)" font-family="'Liberation Sans', sans-serif" font-size="10.2" fill="#000" text-anchor="start">10<tspan font-size="6.0" dy="-5.5">3</tspan></text>
<text x="0" y="0" transform="translate(465.00,400.50) scale(0.88,1)" font-family="'Liberation Sans', sans-serif" font-size="10.2" fill="#000" text-anchor="start">10<tspan font-size="6.0" dy="-5.5">4</tspan></text>
<text x="0" y="0" transform="translate(495.10,400.50) scale(0.88,1)" font-family="'Liberation Sans', sans-serif" font-size="10.2" fill="#000" text-anchor="start">10<tspan font-size="6.0" dy="-5.5">5</tspan></text>
<text x="0" y="0" transform="translate(525.20,400.50) scale(0.88,1)" font-family="'Liberation Sans', sans-serif" font-size="10.2" fill="#000" text-anchor="start">10<tspan font-size="6.0" dy="-5.5">6</tspan></text>
<text x="426.50" y="413.30" font-family="'Liberation Sans', sans-serif" font-size="10.9" font-weight="bold" fill="#000" text-anchor="middle" >Thickness (nm)</text>
<text x="0" y="0" transform="translate(293.80,368.90) rotate(-90)" font-family="'Liberation Sans', sans-serif" font-size="11.2" font-weight="bold" text-anchor="start">Activation energy, E<tspan font-size="7.5" dy="2.7">a</tspan><tspan dy="-2.7"> (eV)</tspan></text>
<text x="275.90" y="221.70" font-family="'Liberation Serif', serif" font-size="17" font-weight="normal" fill="#000" text-anchor="start" >(d)</text>
<line x1="322.2" y1="360.3" x2="531.2" y2="233.75" stroke="#e42222" stroke-width="2.6" stroke-dasharray="3.7 7.3" stroke-dashoffset="1.8"/>
<polygon points="381.16,351.60 377.15,349.24 377.15,353.96" fill="none" stroke="#78a048" stroke-width="0.8"/>
<polygon points="384.00,330.46 386.14,332.60 384.00,334.75 381.86,332.60" fill="#c8d878" stroke="#c8d878" stroke-width="0.8"/>
<polygon points="393.60,329.03 391.37,325.24 395.83,325.24" fill="#f0c040" stroke="#f0c040" stroke-width="0.8"/>
<circle cx="371.80" cy="325.80" r="1.81" fill="#2a5a18" stroke="#2a5a18" stroke-width="0.8"/>
<polygon points="378.44,315.60 382.45,313.24 382.45,317.96" fill="none" stroke="#b8d090" stroke-width="0.8"/>
<polygon points="403.00,287.37 400.77,291.16 405.23,291.16" fill="#e8902a" stroke="#e8902a" stroke-width="0.8"/>
<circle cx="427.00" cy="276.40" r="1.81" fill="#a86030" stroke="#a86030" stroke-width="0.8"/>
<rect x="513.75" y="251.35" width="3.30" height="3.30" fill="#402010" stroke="#402010" stroke-width="0.8"/>
<text x="0" y="0" transform="translate(446.50,246.70) scale(0.945,1)" font-family="'Liberation Sans', sans-serif" font-size="8.4" font-weight="normal" fill="#6a5022" text-anchor="start" >280 μm, 310 meV</text>
<text x="0" y="0" transform="translate(460.80,271.60) scale(0.945,1)" font-family="'Liberation Sans', sans-serif" font-size="8.4" font-weight="normal" fill="#a06030" text-anchor="end" >330 nm, 260 meV</text>
<text x="0" y="0" transform="translate(349.00,285.70) scale(0.945,1)" font-family="'Liberation Sans', sans-serif" font-size="8.4" font-weight="normal" fill="#e09030" text-anchor="start" >52 nm, 230 meV</text>
<text x="0" y="0" transform="translate(323.50,310.20) scale(0.945,1)" font-family="'Liberation Sans', sans-serif" font-size="8.4" font-weight="normal" fill="#a8c070" text-anchor="start" >10 nm, 160 meV (hBN)</text>
<text x="0" y="0" transform="translate(323.50,321.30) scale(0.945,1)" font-family="'Liberation Sans', sans-serif" font-size="8.4" font-weight="normal" fill="#2a5a1a" text-anchor="start" >5 nm, 140 meV</text>
<text x="0" y="0" transform="translate(398.50,330.40) scale(0.945,1)" font-family="'Liberation Sans', sans-serif" font-size="8.4" font-weight="normal" fill="#e8c050" text-anchor="start" >25 nm, 140 meV</text>
<text x="0" y="0" transform="translate(388.50,342.00) scale(0.945,1)" font-family="'Liberation Sans', sans-serif" font-size="8.4" font-weight="normal" fill="#c0d070" text-anchor="start" >12 nm, 130 meV</text>
<text x="0" y="0" transform="translate(341.90,365.90) scale(0.945,1)" font-family="'Liberation Sans', sans-serif" font-size="8.4" font-weight="normal" fill="#6a9a3a" text-anchor="start" >8 nm, 80 meV (hBN)</text>
</svg>
</body></html>
